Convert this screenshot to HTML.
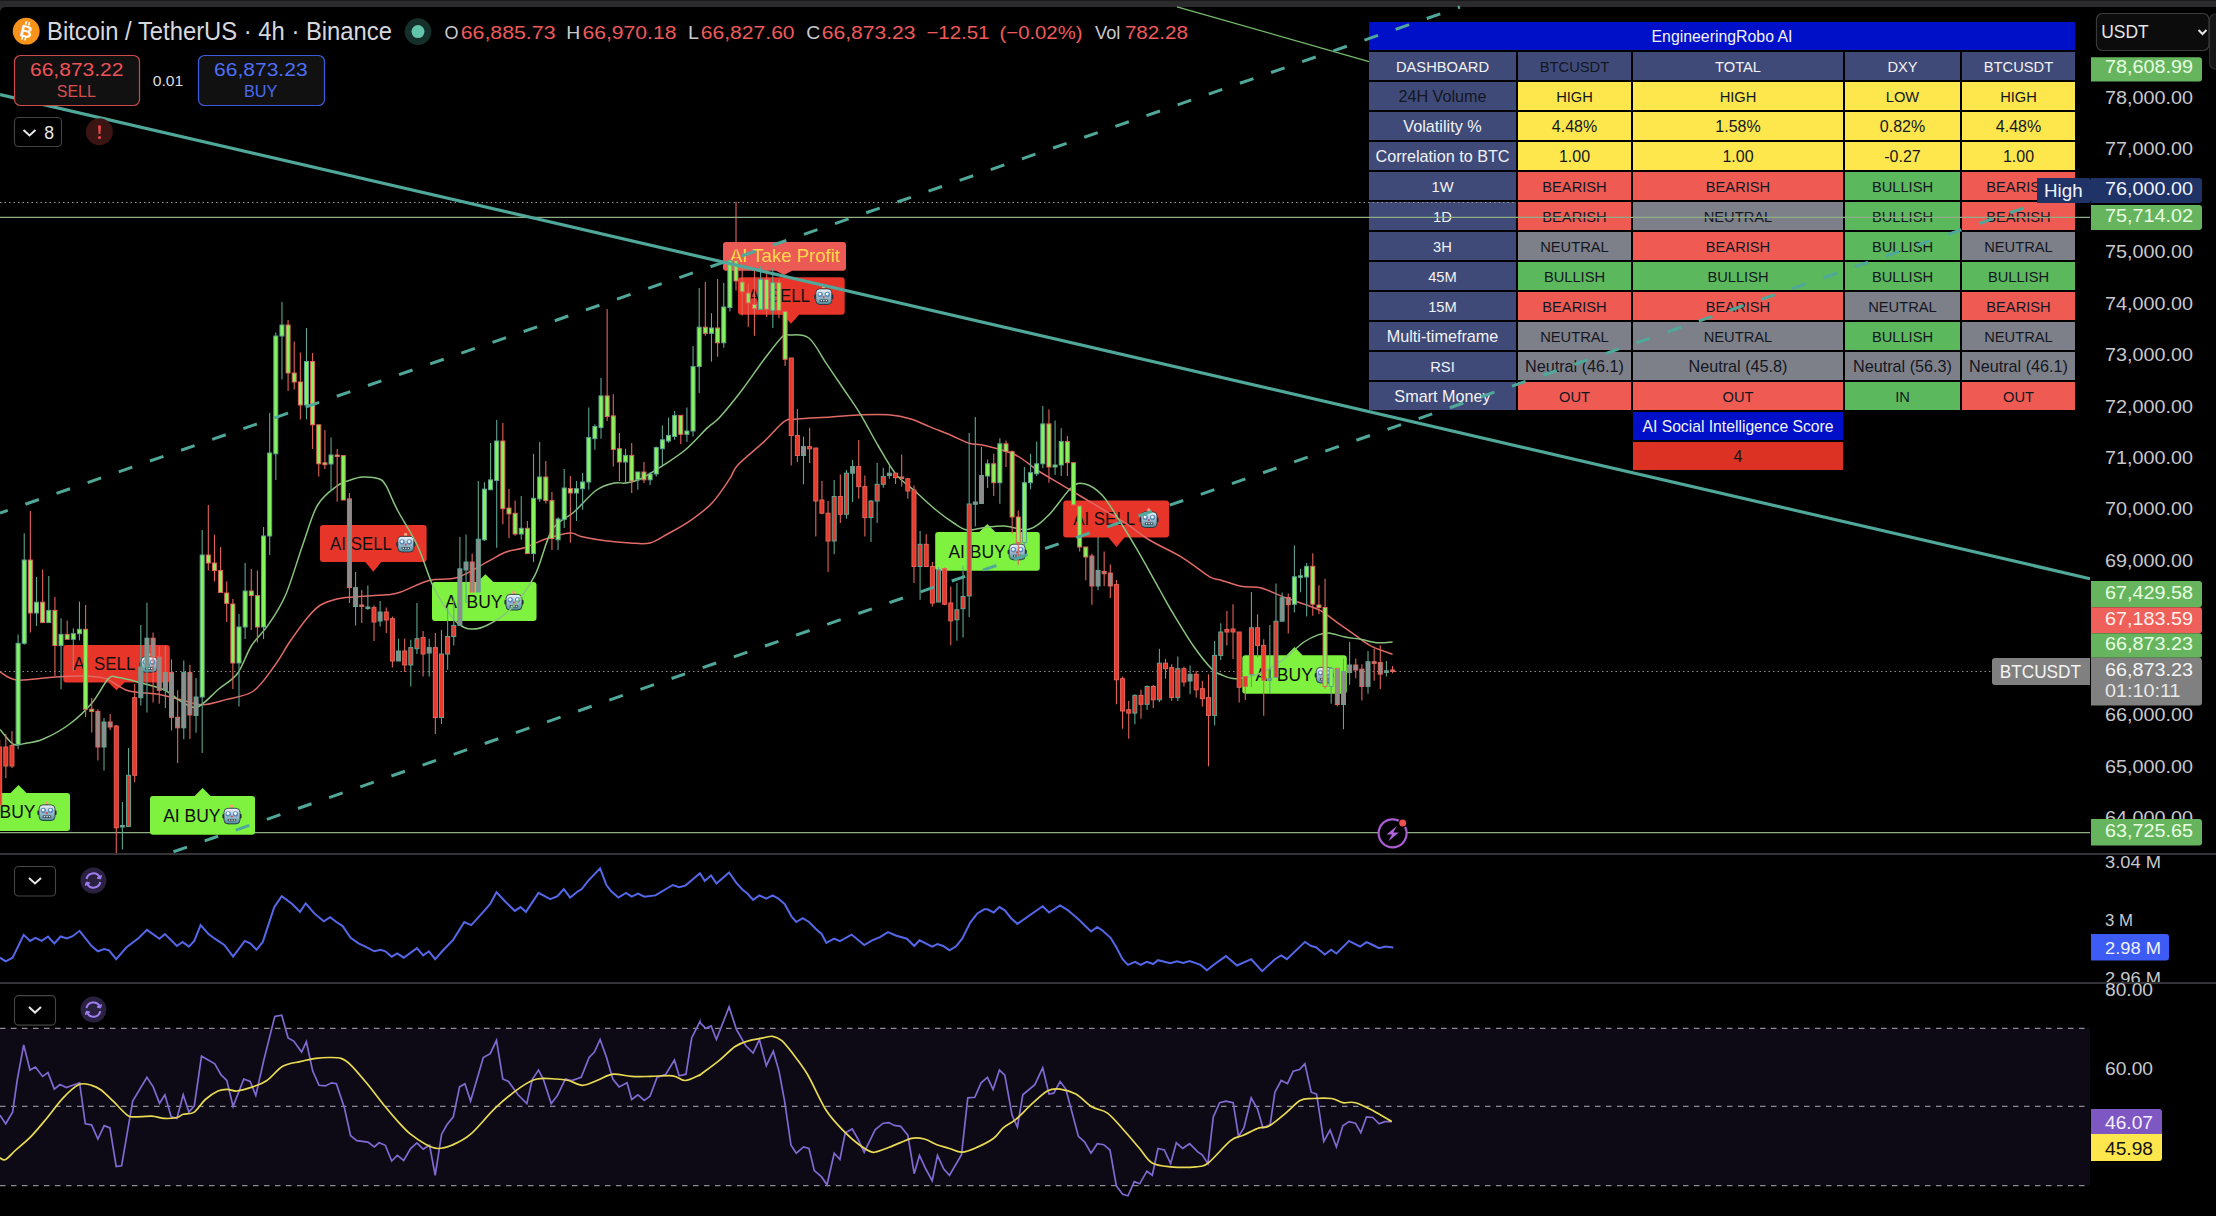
<!DOCTYPE html>
<html><head><meta charset="utf-8"><style>
html,body{margin:0;padding:0;background:#000;overflow:hidden}
svg{display:block}
text{font-family:'Liberation Sans', sans-serif}
</style></head><body>
<svg width="2216" height="1216" viewBox="0 0 2216 1216">
<defs><linearGradient id="robg" x1="0" y1="0" x2="0" y2="1"><stop offset="0" stop-color="#eef4fa"/><stop offset="0.45" stop-color="#a9c4d6"/><stop offset="1" stop-color="#4e8c98"/></linearGradient></defs>
<rect x="0" y="0" width="2216" height="1216" fill="#000"/>
<rect x="0" y="0" width="2216" height="7" fill="#2b2b2d"/>
<rect x="0" y="0" width="2216" height="1" fill="#1a1a1a"/>
<path d="M0 7 H2216 V13 Q2216 7 2210 7 Z" fill="#2b2b2d"/>
<path d="M0 7 L0 13 Q0 7 6 7 Z" fill="#2b2b2d"/>
<line x1="0" y1="671.5" x2="1992" y2="671.5" stroke="#8a8a8a" stroke-width="1" stroke-dasharray="1.5 3"/>
<line x1="0" y1="832.6" x2="2090" y2="832.6" stroke="#8fae86" stroke-width="1.2"/>
<line x1="1177" y1="6.8" x2="1369" y2="61.6" stroke="#76bc6c" stroke-width="1.3"/>
<path d="M-32 793 H10.5 L18.5 785 L26.5 793 H67 Q70 793 70 796 V828 Q70 831 67 831 H-32 Q-35 831 -35 828 V796 Q-35 793 -32 793 Z" fill="#7ef23e"/>
<text x="-21.8" y="818.3" font-size="18" fill="#0d0d0d" textLength="57.3" lengthAdjust="spacingAndGlyphs">AI BUY</text>
<g transform="translate(39.0,804.5)"><rect x="-1.6" y="6" width="3" height="4.5" rx="1" fill="#25323d"/><rect x="14.6" y="6" width="3" height="4.5" rx="1" fill="#25323d"/><rect x="7" y="-1" width="1.6" height="2" fill="#3a4650"/><circle cx="7.8" cy="-1.6" r="1.7" fill="#f6a27a"/><rect x="0" y="0.4" width="16" height="15.6" rx="4" fill="url(#robg)" stroke="#1e2a33" stroke-width="0.8"/><circle cx="4.3" cy="6" r="2.7" fill="#5a8cb8"/><circle cx="11.6" cy="6" r="2.7" fill="#5a8cb8"/><circle cx="4.1" cy="5.6" r="1.4" fill="#f4fbff"/><circle cx="11.4" cy="5.6" r="1.4" fill="#f4fbff"/><circle cx="7.9" cy="8.6" r="1.1" fill="#c24a5a"/><rect x="3.8" y="11" width="8.4" height="2.4" rx="0.8" fill="#2c3c48"/><rect x="4.8" y="11.6" width="1.5" height="1.2" fill="#e8f0f4"/><rect x="7.3" y="11.6" width="1.5" height="1.2" fill="#e8f0f4"/><rect x="9.8" y="11.6" width="1.5" height="1.2" fill="#e8f0f4"/></g>
<path d="M153 796 H194.6 L202.6 788 L210.6 796 H252 Q255 796 255 799 V831.7 Q255 834.7 252 834.7 H153 Q150 834.7 150 831.7 V799 Q150 796 153 796 Z" fill="#7ef23e"/>
<text x="163.2" y="821.65" font-size="18" fill="#0d0d0d" textLength="57.3" lengthAdjust="spacingAndGlyphs">AI BUY</text>
<g transform="translate(224.0,807.9)"><rect x="-1.6" y="6" width="3" height="4.5" rx="1" fill="#25323d"/><rect x="14.6" y="6" width="3" height="4.5" rx="1" fill="#25323d"/><rect x="7" y="-1" width="1.6" height="2" fill="#3a4650"/><circle cx="7.8" cy="-1.6" r="1.7" fill="#f6a27a"/><rect x="0" y="0.4" width="16" height="15.6" rx="4" fill="url(#robg)" stroke="#1e2a33" stroke-width="0.8"/><circle cx="4.3" cy="6" r="2.7" fill="#5a8cb8"/><circle cx="11.6" cy="6" r="2.7" fill="#5a8cb8"/><circle cx="4.1" cy="5.6" r="1.4" fill="#f4fbff"/><circle cx="11.4" cy="5.6" r="1.4" fill="#f4fbff"/><circle cx="7.9" cy="8.6" r="1.1" fill="#c24a5a"/><rect x="3.8" y="11" width="8.4" height="2.4" rx="0.8" fill="#2c3c48"/><rect x="4.8" y="11.6" width="1.5" height="1.2" fill="#e8f0f4"/><rect x="7.3" y="11.6" width="1.5" height="1.2" fill="#e8f0f4"/><rect x="9.8" y="11.6" width="1.5" height="1.2" fill="#e8f0f4"/></g>
<path d="M66.3 645 H166.8 Q169.8 645 169.8 648 V679.6 Q169.8 682.6 166.8 682.6 H124.5 L116.5 690.3 L108.5 682.6 H66.3 Q63.3 682.6 63.3 679.6 V648 Q63.3 645 66.3 645 Z" fill="#e8352a"/>
<text x="73.3" y="670.0999999999999" font-size="18" fill="#111" textLength="62" lengthAdjust="spacingAndGlyphs">AI SELL</text>
<g transform="translate(141.1,656.3)"><rect x="-1.6" y="6" width="3" height="4.5" rx="1" fill="#25323d"/><rect x="14.6" y="6" width="3" height="4.5" rx="1" fill="#25323d"/><rect x="7" y="-1" width="1.6" height="2" fill="#3a4650"/><circle cx="7.8" cy="-1.6" r="1.7" fill="#f6a27a"/><rect x="0" y="0.4" width="16" height="15.6" rx="4" fill="url(#robg)" stroke="#1e2a33" stroke-width="0.8"/><circle cx="4.3" cy="6" r="2.7" fill="#5a8cb8"/><circle cx="11.6" cy="6" r="2.7" fill="#5a8cb8"/><circle cx="4.1" cy="5.6" r="1.4" fill="#f4fbff"/><circle cx="11.4" cy="5.6" r="1.4" fill="#f4fbff"/><circle cx="7.9" cy="8.6" r="1.1" fill="#c24a5a"/><rect x="3.8" y="11" width="8.4" height="2.4" rx="0.8" fill="#2c3c48"/><rect x="4.8" y="11.6" width="1.5" height="1.2" fill="#e8f0f4"/><rect x="7.3" y="11.6" width="1.5" height="1.2" fill="#e8f0f4"/><rect x="9.8" y="11.6" width="1.5" height="1.2" fill="#e8f0f4"/></g>
<path d="M323 525 H423.6 Q426.6 525 426.6 528 V559 Q426.6 562 423.6 562 H381.3 L373.3 571.7 L365.3 562 H323 Q320 562 320 559 V528 Q320 525 323 525 Z" fill="#e8352a"/>
<text x="330" y="549.8" font-size="18" fill="#111" textLength="62" lengthAdjust="spacingAndGlyphs">AI SELL</text>
<g transform="translate(397.8,536.0)"><rect x="-1.6" y="6" width="3" height="4.5" rx="1" fill="#25323d"/><rect x="14.6" y="6" width="3" height="4.5" rx="1" fill="#25323d"/><rect x="7" y="-1" width="1.6" height="2" fill="#3a4650"/><circle cx="7.8" cy="-1.6" r="1.7" fill="#f6a27a"/><rect x="0" y="0.4" width="16" height="15.6" rx="4" fill="url(#robg)" stroke="#1e2a33" stroke-width="0.8"/><circle cx="4.3" cy="6" r="2.7" fill="#5a8cb8"/><circle cx="11.6" cy="6" r="2.7" fill="#5a8cb8"/><circle cx="4.1" cy="5.6" r="1.4" fill="#f4fbff"/><circle cx="11.4" cy="5.6" r="1.4" fill="#f4fbff"/><circle cx="7.9" cy="8.6" r="1.1" fill="#c24a5a"/><rect x="3.8" y="11" width="8.4" height="2.4" rx="0.8" fill="#2c3c48"/><rect x="4.8" y="11.6" width="1.5" height="1.2" fill="#e8f0f4"/><rect x="7.3" y="11.6" width="1.5" height="1.2" fill="#e8f0f4"/><rect x="9.8" y="11.6" width="1.5" height="1.2" fill="#e8f0f4"/></g>
<path d="M435 582 H477.4 L485.4 574.3 L493.4 582 H533.5 Q536.5 582 536.5 585 V618 Q536.5 621 533.5 621 H435 Q432 621 432 618 V585 Q432 582 435 582 Z" fill="#7ef23e"/>
<text x="445.2" y="607.8" font-size="18" fill="#0d0d0d" textLength="57.3" lengthAdjust="spacingAndGlyphs">AI BUY</text>
<g transform="translate(506.0,594.0)"><rect x="-1.6" y="6" width="3" height="4.5" rx="1" fill="#25323d"/><rect x="14.6" y="6" width="3" height="4.5" rx="1" fill="#25323d"/><rect x="7" y="-1" width="1.6" height="2" fill="#3a4650"/><circle cx="7.8" cy="-1.6" r="1.7" fill="#f6a27a"/><rect x="0" y="0.4" width="16" height="15.6" rx="4" fill="url(#robg)" stroke="#1e2a33" stroke-width="0.8"/><circle cx="4.3" cy="6" r="2.7" fill="#5a8cb8"/><circle cx="11.6" cy="6" r="2.7" fill="#5a8cb8"/><circle cx="4.1" cy="5.6" r="1.4" fill="#f4fbff"/><circle cx="11.4" cy="5.6" r="1.4" fill="#f4fbff"/><circle cx="7.9" cy="8.6" r="1.1" fill="#c24a5a"/><rect x="3.8" y="11" width="8.4" height="2.4" rx="0.8" fill="#2c3c48"/><rect x="4.8" y="11.6" width="1.5" height="1.2" fill="#e8f0f4"/><rect x="7.3" y="11.6" width="1.5" height="1.2" fill="#e8f0f4"/><rect x="9.8" y="11.6" width="1.5" height="1.2" fill="#e8f0f4"/></g>
<path d="M726 242 H843 Q846 242 846 245 V267.7 Q846 270.7 843 270.7 H792 L784 275 L776 270.7 H726 Q723 270.7 723 267.7 V245 Q723 242 726 242 Z" fill="#ec5a55"/>
<text x="730" y="261.7" font-size="18.5" fill="#ffd84a" textLength="110" lengthAdjust="spacingAndGlyphs">AI Take Profit</text>
<path d="M741 277.3 H841.7 Q844.7 277.3 844.7 280.3 V311.7 Q844.7 314.7 841.7 314.7 H799 L791 323.75 L783 314.7 H741 Q738 314.7 738 311.7 V280.3 Q738 277.3 741 277.3 Z" fill="#e8352a"/>
<text x="748" y="302.3" font-size="18" fill="#111" textLength="62" lengthAdjust="spacingAndGlyphs">AI SELL</text>
<g transform="translate(815.8,288.5)"><rect x="-1.6" y="6" width="3" height="4.5" rx="1" fill="#25323d"/><rect x="14.6" y="6" width="3" height="4.5" rx="1" fill="#25323d"/><rect x="7" y="-1" width="1.6" height="2" fill="#3a4650"/><circle cx="7.8" cy="-1.6" r="1.7" fill="#f6a27a"/><rect x="0" y="0.4" width="16" height="15.6" rx="4" fill="url(#robg)" stroke="#1e2a33" stroke-width="0.8"/><circle cx="4.3" cy="6" r="2.7" fill="#5a8cb8"/><circle cx="11.6" cy="6" r="2.7" fill="#5a8cb8"/><circle cx="4.1" cy="5.6" r="1.4" fill="#f4fbff"/><circle cx="11.4" cy="5.6" r="1.4" fill="#f4fbff"/><circle cx="7.9" cy="8.6" r="1.1" fill="#c24a5a"/><rect x="3.8" y="11" width="8.4" height="2.4" rx="0.8" fill="#2c3c48"/><rect x="4.8" y="11.6" width="1.5" height="1.2" fill="#e8f0f4"/><rect x="7.3" y="11.6" width="1.5" height="1.2" fill="#e8f0f4"/><rect x="9.8" y="11.6" width="1.5" height="1.2" fill="#e8f0f4"/></g>
<path d="M938.2 531.9 H979.3 L987.3 524 L995.3 531.9 H1036.8 Q1039.8 531.9 1039.8 534.9 V567.8 Q1039.8 570.8 1036.8 570.8 H938.2 Q935.2 570.8 935.2 567.8 V534.9 Q935.2 531.9 938.2 531.9 Z" fill="#7ef23e"/>
<text x="948.4000000000001" y="557.6499999999999" font-size="18" fill="#0d0d0d" textLength="57.3" lengthAdjust="spacingAndGlyphs">AI BUY</text>
<g transform="translate(1009.2,543.8)"><rect x="-1.6" y="6" width="3" height="4.5" rx="1" fill="#25323d"/><rect x="14.6" y="6" width="3" height="4.5" rx="1" fill="#25323d"/><rect x="7" y="-1" width="1.6" height="2" fill="#3a4650"/><circle cx="7.8" cy="-1.6" r="1.7" fill="#f6a27a"/><rect x="0" y="0.4" width="16" height="15.6" rx="4" fill="url(#robg)" stroke="#1e2a33" stroke-width="0.8"/><circle cx="4.3" cy="6" r="2.7" fill="#5a8cb8"/><circle cx="11.6" cy="6" r="2.7" fill="#5a8cb8"/><circle cx="4.1" cy="5.6" r="1.4" fill="#f4fbff"/><circle cx="11.4" cy="5.6" r="1.4" fill="#f4fbff"/><circle cx="7.9" cy="8.6" r="1.1" fill="#c24a5a"/><rect x="3.8" y="11" width="8.4" height="2.4" rx="0.8" fill="#2c3c48"/><rect x="4.8" y="11.6" width="1.5" height="1.2" fill="#e8f0f4"/><rect x="7.3" y="11.6" width="1.5" height="1.2" fill="#e8f0f4"/><rect x="9.8" y="11.6" width="1.5" height="1.2" fill="#e8f0f4"/></g>
<path d="M1066.2 500.4 H1166 Q1169 500.4 1169 503.4 V534.5 Q1169 537.5 1166 537.5 H1124.5 L1116.5 547 L1108.5 537.5 H1066.2 Q1063.2 537.5 1063.2 534.5 V503.4 Q1063.2 500.4 1066.2 500.4 Z" fill="#e8352a"/>
<text x="1073.2" y="525.25" font-size="18" fill="#111" textLength="62" lengthAdjust="spacingAndGlyphs">AI SELL</text>
<g transform="translate(1141.0,511.5)"><rect x="-1.6" y="6" width="3" height="4.5" rx="1" fill="#25323d"/><rect x="14.6" y="6" width="3" height="4.5" rx="1" fill="#25323d"/><rect x="7" y="-1" width="1.6" height="2" fill="#3a4650"/><circle cx="7.8" cy="-1.6" r="1.7" fill="#f6a27a"/><rect x="0" y="0.4" width="16" height="15.6" rx="4" fill="url(#robg)" stroke="#1e2a33" stroke-width="0.8"/><circle cx="4.3" cy="6" r="2.7" fill="#5a8cb8"/><circle cx="11.6" cy="6" r="2.7" fill="#5a8cb8"/><circle cx="4.1" cy="5.6" r="1.4" fill="#f4fbff"/><circle cx="11.4" cy="5.6" r="1.4" fill="#f4fbff"/><circle cx="7.9" cy="8.6" r="1.1" fill="#c24a5a"/><rect x="3.8" y="11" width="8.4" height="2.4" rx="0.8" fill="#2c3c48"/><rect x="4.8" y="11.6" width="1.5" height="1.2" fill="#e8f0f4"/><rect x="7.3" y="11.6" width="1.5" height="1.2" fill="#e8f0f4"/><rect x="9.8" y="11.6" width="1.5" height="1.2" fill="#e8f0f4"/></g>
<path d="M1245.3 655.2 H1286.5 L1294.5 647 L1302.5 655.2 H1343.8 Q1346.8 655.2 1346.8 658.2 V690.8 Q1346.8 693.8 1343.8 693.8 H1245.3 Q1242.3 693.8 1242.3 690.8 V658.2 Q1242.3 655.2 1245.3 655.2 Z" fill="#7ef23e"/>
<text x="1255.5" y="680.8" font-size="18" fill="#0d0d0d" textLength="57.3" lengthAdjust="spacingAndGlyphs">AI BUY</text>
<g transform="translate(1316.3,667.0)"><rect x="-1.6" y="6" width="3" height="4.5" rx="1" fill="#25323d"/><rect x="14.6" y="6" width="3" height="4.5" rx="1" fill="#25323d"/><rect x="7" y="-1" width="1.6" height="2" fill="#3a4650"/><circle cx="7.8" cy="-1.6" r="1.7" fill="#f6a27a"/><rect x="0" y="0.4" width="16" height="15.6" rx="4" fill="url(#robg)" stroke="#1e2a33" stroke-width="0.8"/><circle cx="4.3" cy="6" r="2.7" fill="#5a8cb8"/><circle cx="11.6" cy="6" r="2.7" fill="#5a8cb8"/><circle cx="4.1" cy="5.6" r="1.4" fill="#f4fbff"/><circle cx="11.4" cy="5.6" r="1.4" fill="#f4fbff"/><circle cx="7.9" cy="8.6" r="1.1" fill="#c24a5a"/><rect x="3.8" y="11" width="8.4" height="2.4" rx="0.8" fill="#2c3c48"/><rect x="4.8" y="11.6" width="1.5" height="1.2" fill="#e8f0f4"/><rect x="7.3" y="11.6" width="1.5" height="1.2" fill="#e8f0f4"/><rect x="9.8" y="11.6" width="1.5" height="1.2" fill="#e8f0f4"/></g>
<path d="M0.0 671.8 C2.7 673.2 8.2 679.0 16.4 680.0 C24.6 681.0 38.9 678.3 49.3 677.6 C59.7 676.9 69.7 675.9 79.0 676.0 C88.3 676.1 96.8 675.9 105.0 678.4 C113.2 680.9 119.8 688.2 128.3 690.8 C136.9 693.4 147.5 692.5 156.3 694.0 C165.1 695.5 173.3 698.0 181.0 699.8 C188.7 701.6 194.9 704.7 202.3 704.7 C209.8 704.7 217.2 701.9 225.7 699.6 C234.2 697.3 245.3 696.7 253.5 691.0 C261.7 685.3 268.8 673.5 274.9 665.3 C280.9 657.1 284.4 649.6 289.8 641.8 C295.2 634.0 302.0 624.3 307.0 618.3 C312.0 612.2 314.8 608.7 319.8 605.5 C324.8 602.3 331.2 600.4 336.9 599.0 C342.6 597.6 345.8 597.6 354.0 596.9 C362.2 596.2 378.3 595.6 386.0 594.8 C393.7 594.0 392.8 594.6 400.0 592.2 C407.2 589.8 419.5 582.9 429.0 580.4 C438.5 577.9 447.4 580.6 457.2 577.5 C467.0 574.4 479.7 565.8 487.7 561.6 C495.7 557.4 499.0 554.6 505.3 552.2 C511.6 549.9 518.4 549.8 525.3 547.5 C532.1 545.2 538.9 541.1 546.4 538.7 C553.9 536.3 564.2 533.4 570.0 533.0 C575.8 532.6 575.1 535.1 581.0 536.4 C586.9 537.7 597.3 539.7 605.5 540.8 C613.7 541.9 622.6 542.6 630.0 543.0 C637.4 543.4 643.7 544.5 650.0 543.0 C656.3 541.5 660.9 537.7 667.6 534.0 C674.3 530.3 682.6 526.1 690.0 520.9 C697.4 515.7 705.4 510.0 712.0 503.0 C718.6 496.0 725.5 485.0 729.8 478.7 C734.1 472.4 732.0 471.2 737.8 465.0 C743.6 458.8 756.6 448.7 764.4 441.4 C772.2 434.1 778.8 425.1 784.4 421.4 C790.0 417.7 789.9 419.7 797.7 419.0 C805.5 418.3 820.3 417.7 831.0 417.0 C841.7 416.3 852.4 415.2 862.0 414.8 C871.6 414.4 880.5 414.1 888.7 414.8 C896.9 415.5 904.2 417.0 911.0 419.0 C917.8 421.0 922.5 423.9 929.3 426.6 C936.0 429.4 944.9 432.7 951.5 435.5 C958.1 438.3 963.7 441.6 969.2 443.3 C974.8 445.0 977.1 443.6 984.8 445.5 C992.5 447.4 1006.7 450.8 1015.5 455.0 C1024.3 459.2 1030.3 465.7 1037.7 470.5 C1045.1 475.3 1052.6 479.4 1060.0 483.8 C1067.4 488.2 1074.6 492.6 1082.0 497.0 C1089.4 501.4 1096.9 505.9 1104.3 510.4 C1111.7 514.9 1119.0 518.8 1126.5 523.7 C1134.0 528.6 1140.0 534.3 1149.4 540.0 C1158.8 545.7 1172.7 551.7 1182.7 557.8 C1192.7 563.9 1203.0 572.9 1209.3 576.6 C1215.6 580.3 1214.9 578.3 1220.4 580.0 C1226.0 581.7 1235.9 585.3 1242.6 586.6 C1249.3 587.9 1253.7 586.0 1260.4 587.7 C1267.1 589.4 1275.2 593.8 1282.6 596.6 C1290.0 599.4 1298.5 602.0 1304.8 604.4 C1311.1 606.8 1315.1 607.7 1320.5 610.7 C1325.9 613.7 1331.5 618.4 1337.0 622.3 C1342.5 626.1 1347.9 630.0 1353.4 633.8 C1358.9 637.6 1363.3 641.9 1369.8 645.3 C1376.3 648.7 1388.8 652.9 1392.6 654.4" fill="none" stroke="#e06a66" stroke-width="1.5"/>
<path d="M0.0 729.4 C2.2 731.9 9.1 741.9 13.2 744.2 C17.3 746.5 19.8 744.2 24.7 743.4 C29.6 742.6 35.4 742.4 42.8 739.3 C50.2 736.1 60.8 730.5 69.0 724.5 C77.2 718.5 85.4 710.7 92.0 703.0 C98.6 695.3 104.2 682.6 108.6 678.4 C113.0 674.2 113.8 677.0 118.4 677.6 C123.1 678.2 128.8 679.6 136.5 681.7 C144.2 683.8 157.1 686.7 164.5 690.0 C171.9 693.3 175.5 698.6 181.0 701.4 C186.5 704.2 191.1 709.1 197.4 707.0 C203.7 704.9 212.1 694.6 218.8 689.0 C225.5 683.4 232.1 680.7 237.5 673.5 C242.9 666.3 246.2 654.1 251.3 646.0 C256.4 637.9 262.7 633.2 268.4 624.7 C274.1 616.2 279.9 608.3 285.6 595.0 C291.3 581.7 297.4 560.0 302.7 545.0 C308.0 530.0 311.9 514.8 317.6 505.0 C323.3 495.2 331.5 490.1 336.9 486.0 C342.2 481.9 345.4 481.8 349.7 480.3 C354.0 478.8 357.8 477.4 362.6 477.1 C367.4 476.9 374.7 477.4 378.6 478.8 C382.5 480.2 382.9 480.5 386.0 485.7 C389.1 490.9 392.2 500.1 397.4 510.0 C402.6 519.9 411.4 532.7 417.3 545.2 C423.2 557.7 427.7 574.4 432.6 585.1 C437.5 595.9 442.4 603.2 446.7 609.7 C451.0 616.2 454.3 620.6 458.4 623.8 C462.5 627.0 466.4 628.9 471.3 629.1 C476.2 629.3 481.1 628.4 487.7 625.0 C494.3 621.6 503.4 616.8 511.2 608.6 C519.0 600.4 527.9 588.8 534.7 575.7 C541.5 562.6 545.5 540.6 552.0 530.0 C558.5 519.4 566.6 518.7 574.0 512.0 C581.4 505.3 589.9 494.8 596.6 490.0 C603.3 485.2 609.2 484.2 614.0 483.0 C618.8 481.8 621.0 483.7 625.5 483.0 C630.0 482.3 634.8 481.6 641.0 478.7 C647.2 475.8 655.6 470.2 663.0 465.4 C670.4 460.6 678.0 456.1 685.4 449.8 C692.8 443.5 701.8 433.1 707.6 427.6 C713.4 422.1 714.3 423.3 720.0 417.0 C725.7 410.7 734.6 399.7 742.0 390.0 C749.4 380.3 757.7 367.8 764.4 359.0 C771.1 350.2 777.9 341.0 782.0 337.0 C786.1 333.0 784.3 334.8 788.8 335.0 C793.3 335.2 802.5 333.2 808.8 338.0 C815.1 342.8 820.6 355.0 826.5 363.7 C832.4 372.4 838.6 381.6 844.3 390.0 C850.0 398.4 854.9 405.1 860.5 414.4 C866.1 423.6 872.1 435.5 878.0 445.5 C883.9 455.5 890.0 467.0 896.0 474.4 C902.0 481.8 907.0 484.1 913.7 490.0 C920.4 495.9 929.3 504.5 936.0 510.0 C942.7 515.5 948.5 519.7 953.7 523.0 C958.9 526.3 961.8 529.2 967.0 530.0 C972.2 530.8 978.6 528.3 984.8 527.6 C991.0 526.9 997.1 525.7 1004.4 526.0 C1011.7 526.3 1021.4 531.1 1028.8 529.3 C1036.2 527.5 1041.8 521.9 1048.8 515.0 C1055.8 508.1 1065.1 493.2 1071.0 488.0 C1076.9 482.8 1079.1 482.6 1084.3 483.8 C1089.5 485.0 1096.0 488.7 1102.0 495.0 C1108.0 501.3 1114.1 512.3 1120.0 521.5 C1125.9 530.7 1131.0 539.0 1137.6 550.4 C1144.2 561.8 1154.1 579.9 1159.8 590.0 C1165.5 600.1 1165.9 601.6 1171.6 611.0 C1177.3 620.4 1187.1 636.9 1193.8 646.5 C1200.5 656.1 1207.1 664.1 1211.5 668.7 C1215.9 673.3 1216.3 672.6 1220.4 674.3 C1224.5 676.0 1229.3 678.9 1236.0 678.7 C1242.7 678.5 1252.6 676.3 1260.4 673.2 C1268.2 670.1 1275.3 665.2 1282.6 660.0 C1289.9 654.8 1298.0 646.2 1304.0 642.0 C1310.0 637.8 1314.7 636.1 1318.8 634.6 C1322.9 633.1 1324.3 632.6 1328.7 633.0 C1333.1 633.4 1339.7 635.9 1345.2 637.0 C1350.7 638.1 1356.1 638.5 1361.6 639.5 C1367.1 640.5 1372.8 642.4 1378.0 642.8 C1383.2 643.2 1390.2 642.1 1392.6 642.0" fill="none" stroke="#88c47e" stroke-width="1.5"/>
<line x1="-0.31" y1="740" x2="-0.31" y2="812" stroke="#e2645a" stroke-width="1.1"/>
<rect x="-2.31" y="747" width="4" height="58.0" fill="#e8392c" stroke="#e2645a" stroke-width="1"/>
<line x1="5.83" y1="734" x2="5.83" y2="778" stroke="#e2645a" stroke-width="1.1"/>
<rect x="3.83" y="747" width="4" height="19.0" fill="#e8392c" stroke="#e2645a" stroke-width="1"/>
<line x1="11.96" y1="731" x2="11.96" y2="768" stroke="#e2645a" stroke-width="1.1"/>
<rect x="9.96" y="745.6" width="4" height="20.4" fill="#e8392c" stroke="#e2645a" stroke-width="1"/>
<line x1="18.10" y1="634.4" x2="18.10" y2="749.2" stroke="#5fa392" stroke-width="1.1"/>
<rect x="16.10" y="643.3" width="4" height="101.4" fill="#84f45a" stroke="#5fa392" stroke-width="1"/>
<line x1="24.24" y1="533.2" x2="24.24" y2="644.8" stroke="#5fa392" stroke-width="1.1"/>
<rect x="22.24" y="560" width="4" height="83.3" fill="#84f45a" stroke="#5fa392" stroke-width="1"/>
<line x1="30.37" y1="511" x2="30.37" y2="632.6" stroke="#e2645a" stroke-width="1.1"/>
<rect x="28.37" y="560" width="4" height="53.0" fill="#84f45a" stroke="#e2645a" stroke-width="1"/>
<line x1="36.51" y1="577" x2="36.51" y2="626" stroke="#5fa392" stroke-width="1.1"/>
<rect x="34.51" y="602.2" width="4" height="10.8" fill="#84f45a" stroke="#5fa392" stroke-width="1"/>
<line x1="42.64" y1="569.4" x2="42.64" y2="622.6" stroke="#e2645a" stroke-width="1.1"/>
<rect x="40.64" y="602.2" width="4" height="20.4" fill="#84f45a" stroke="#e2645a" stroke-width="1"/>
<line x1="48.78" y1="576" x2="48.78" y2="622.6" stroke="#5fa392" stroke-width="1.1"/>
<rect x="46.78" y="610.4" width="4" height="12.2" fill="#84f45a" stroke="#5fa392" stroke-width="1"/>
<line x1="54.92" y1="597" x2="54.92" y2="676" stroke="#e2645a" stroke-width="1.1"/>
<rect x="52.92" y="610.4" width="4" height="35.1" fill="#84f45a" stroke="#e2645a" stroke-width="1"/>
<line x1="61.05" y1="618.2" x2="61.05" y2="689.2" stroke="#5fa392" stroke-width="1.1"/>
<rect x="59.05" y="634.4" width="4" height="11.1" fill="#84f45a" stroke="#5fa392" stroke-width="1"/>
<line x1="67.19" y1="620.4" x2="67.19" y2="639.3" stroke="#e2645a" stroke-width="1.1"/>
<rect x="65.19" y="634.4" width="4" height="4.9" fill="#84f45a" stroke="#e2645a" stroke-width="1"/>
<line x1="73.32" y1="628.2" x2="73.32" y2="671.5" stroke="#5fa392" stroke-width="1.1"/>
<rect x="71.32" y="633.7" width="4" height="5.6" fill="#84f45a" stroke="#5fa392" stroke-width="1"/>
<line x1="79.46" y1="601.5" x2="79.46" y2="640.4" stroke="#5fa392" stroke-width="1.1"/>
<rect x="77.46" y="629.3" width="4" height="4.4" fill="#84f45a" stroke="#5fa392" stroke-width="1"/>
<line x1="85.60" y1="604.9" x2="85.60" y2="717" stroke="#e2645a" stroke-width="1.1"/>
<rect x="83.60" y="629.3" width="4" height="79.9" fill="#84f45a" stroke="#e2645a" stroke-width="1"/>
<line x1="91.73" y1="698" x2="91.73" y2="732.5" stroke="#e2645a" stroke-width="1.1"/>
<rect x="89.73" y="709.2" width="4" height="2.2" fill="#84f45a" stroke="#e2645a" stroke-width="1"/>
<line x1="97.87" y1="709.2" x2="97.87" y2="760.5" stroke="#e2645a" stroke-width="1.1"/>
<rect x="95.87" y="711.4" width="4" height="35.6" fill="#8d8d8d" stroke="#e2645a" stroke-width="1"/>
<line x1="104.00" y1="718" x2="104.00" y2="770.5" stroke="#5fa392" stroke-width="1.1"/>
<rect x="102.00" y="722" width="4" height="25.0" fill="#8d8d8d" stroke="#5fa392" stroke-width="1"/>
<line x1="110.14" y1="714" x2="110.14" y2="730" stroke="#e2645a" stroke-width="1.1"/>
<rect x="108.14" y="722" width="4" height="5.0" fill="#8d8d8d" stroke="#e2645a" stroke-width="1"/>
<line x1="116.28" y1="725" x2="116.28" y2="853" stroke="#e2645a" stroke-width="1.1"/>
<rect x="114.28" y="726" width="4" height="101.8" fill="#e8392c" stroke="#e2645a" stroke-width="1"/>
<line x1="122.41" y1="802" x2="122.41" y2="849.5" stroke="#5fa392" stroke-width="1.1"/>
<rect x="120.41" y="825.5" width="4" height="1.5" fill="#8d8d8d" stroke="#5fa392" stroke-width="1"/>
<line x1="128.55" y1="748" x2="128.55" y2="826.4" stroke="#5fa392" stroke-width="1.1"/>
<rect x="126.55" y="775.3" width="4" height="51.1" fill="#e8392c" stroke="#5fa392" stroke-width="1"/>
<line x1="134.68" y1="684" x2="134.68" y2="782.3" stroke="#e2645a" stroke-width="1.1"/>
<rect x="132.68" y="697.7" width="4" height="77.6" fill="#e8392c" stroke="#e2645a" stroke-width="1"/>
<line x1="140.82" y1="625" x2="140.82" y2="705.5" stroke="#5fa392" stroke-width="1.1"/>
<rect x="138.82" y="667" width="4" height="30.7" fill="#8d8d8d" stroke="#5fa392" stroke-width="1"/>
<line x1="146.96" y1="602.7" x2="146.96" y2="712.5" stroke="#5fa392" stroke-width="1.1"/>
<rect x="144.96" y="638.2" width="4" height="28.8" fill="#8d8d8d" stroke="#5fa392" stroke-width="1"/>
<line x1="153.09" y1="632.6" x2="153.09" y2="702.5" stroke="#e2645a" stroke-width="1.1"/>
<rect x="151.09" y="638.2" width="4" height="18.8" fill="#8d8d8d" stroke="#e2645a" stroke-width="1"/>
<line x1="159.23" y1="646" x2="159.23" y2="703.7" stroke="#e2645a" stroke-width="1.1"/>
<rect x="157.23" y="657" width="4" height="33.3" fill="#8d8d8d" stroke="#e2645a" stroke-width="1"/>
<line x1="165.36" y1="646" x2="165.36" y2="708" stroke="#5fa392" stroke-width="1.1"/>
<rect x="163.36" y="672.6" width="4" height="17.7" fill="#8d8d8d" stroke="#5fa392" stroke-width="1"/>
<line x1="171.50" y1="659.3" x2="171.50" y2="730.5" stroke="#e2645a" stroke-width="1.1"/>
<rect x="169.50" y="672.6" width="4" height="44.7" fill="#8d8d8d" stroke="#e2645a" stroke-width="1"/>
<line x1="177.64" y1="690.3" x2="177.64" y2="763" stroke="#e2645a" stroke-width="1.1"/>
<rect x="175.64" y="717.3" width="4" height="10.5" fill="#8d8d8d" stroke="#e2645a" stroke-width="1"/>
<line x1="183.77" y1="660.4" x2="183.77" y2="739.2" stroke="#5fa392" stroke-width="1.1"/>
<rect x="181.77" y="672.6" width="4" height="55.2" fill="#8d8d8d" stroke="#5fa392" stroke-width="1"/>
<line x1="189.91" y1="664.8" x2="189.91" y2="739" stroke="#e2645a" stroke-width="1.1"/>
<rect x="187.91" y="672.6" width="4" height="42.4" fill="#8d8d8d" stroke="#e2645a" stroke-width="1"/>
<line x1="196.04" y1="678" x2="196.04" y2="732.7" stroke="#5fa392" stroke-width="1.1"/>
<rect x="194.04" y="697" width="4" height="18.5" fill="#8d8d8d" stroke="#5fa392" stroke-width="1"/>
<line x1="202.18" y1="530" x2="202.18" y2="753" stroke="#5fa392" stroke-width="1.1"/>
<rect x="200.18" y="555" width="4" height="142.0" fill="#84f45a" stroke="#5fa392" stroke-width="1"/>
<line x1="208.32" y1="505" x2="208.32" y2="570.6" stroke="#e2645a" stroke-width="1.1"/>
<rect x="206.32" y="555" width="4" height="8.0" fill="#84f45a" stroke="#e2645a" stroke-width="1"/>
<line x1="214.45" y1="534.7" x2="214.45" y2="581.6" stroke="#e2645a" stroke-width="1.1"/>
<rect x="212.45" y="563" width="4" height="7.6" fill="#84f45a" stroke="#e2645a" stroke-width="1"/>
<line x1="220.59" y1="547" x2="220.59" y2="592.5" stroke="#e2645a" stroke-width="1.1"/>
<rect x="218.59" y="570.6" width="4" height="21.9" fill="#84f45a" stroke="#e2645a" stroke-width="1"/>
<line x1="226.72" y1="581.6" x2="226.72" y2="622" stroke="#e2645a" stroke-width="1.1"/>
<rect x="224.72" y="593" width="4" height="10.4" fill="#84f45a" stroke="#e2645a" stroke-width="1"/>
<line x1="232.86" y1="599" x2="232.86" y2="689" stroke="#e2645a" stroke-width="1.1"/>
<rect x="230.86" y="604" width="4" height="59.0" fill="#84f45a" stroke="#e2645a" stroke-width="1"/>
<line x1="239.00" y1="614" x2="239.00" y2="706.6" stroke="#5fa392" stroke-width="1.1"/>
<rect x="237.00" y="627" width="4" height="36.0" fill="#84f45a" stroke="#5fa392" stroke-width="1"/>
<line x1="245.13" y1="563" x2="245.13" y2="639" stroke="#5fa392" stroke-width="1.1"/>
<rect x="243.13" y="591" width="4" height="36.0" fill="#84f45a" stroke="#5fa392" stroke-width="1"/>
<line x1="251.27" y1="569" x2="251.27" y2="630" stroke="#e2645a" stroke-width="1.1"/>
<rect x="249.27" y="591" width="4" height="4.6" fill="#84f45a" stroke="#e2645a" stroke-width="1"/>
<line x1="257.40" y1="570.6" x2="257.40" y2="642.5" stroke="#e2645a" stroke-width="1.1"/>
<rect x="255.40" y="595.6" width="4" height="31.4" fill="#84f45a" stroke="#e2645a" stroke-width="1"/>
<line x1="263.54" y1="527" x2="263.54" y2="639" stroke="#5fa392" stroke-width="1.1"/>
<rect x="261.54" y="536" width="4" height="91.0" fill="#84f45a" stroke="#5fa392" stroke-width="1"/>
<line x1="269.68" y1="413" x2="269.68" y2="555" stroke="#5fa392" stroke-width="1.1"/>
<rect x="267.68" y="453" width="4" height="83.0" fill="#84f45a" stroke="#5fa392" stroke-width="1"/>
<line x1="275.81" y1="332.5" x2="275.81" y2="480" stroke="#5fa392" stroke-width="1.1"/>
<rect x="273.81" y="336" width="4" height="117.8" fill="#84f45a" stroke="#5fa392" stroke-width="1"/>
<line x1="281.95" y1="302" x2="281.95" y2="379.6" stroke="#5fa392" stroke-width="1.1"/>
<rect x="279.95" y="325" width="4" height="11.0" fill="#84f45a" stroke="#5fa392" stroke-width="1"/>
<line x1="288.08" y1="320" x2="288.08" y2="391" stroke="#e2645a" stroke-width="1.1"/>
<rect x="286.08" y="325" width="4" height="48.0" fill="#84f45a" stroke="#e2645a" stroke-width="1"/>
<line x1="294.22" y1="341.6" x2="294.22" y2="389.5" stroke="#e2645a" stroke-width="1.1"/>
<rect x="292.22" y="373" width="4" height="9.0" fill="#84f45a" stroke="#e2645a" stroke-width="1"/>
<line x1="300.36" y1="352.4" x2="300.36" y2="419.4" stroke="#e2645a" stroke-width="1.1"/>
<rect x="298.36" y="382" width="4" height="23.0" fill="#84f45a" stroke="#e2645a" stroke-width="1"/>
<line x1="306.49" y1="328" x2="306.49" y2="419.4" stroke="#5fa392" stroke-width="1.1"/>
<rect x="304.49" y="361.5" width="4" height="43.5" fill="#84f45a" stroke="#5fa392" stroke-width="1"/>
<line x1="312.63" y1="353" x2="312.63" y2="449" stroke="#e2645a" stroke-width="1.1"/>
<rect x="310.63" y="361.5" width="4" height="63.3" fill="#84f45a" stroke="#e2645a" stroke-width="1"/>
<line x1="318.76" y1="424.8" x2="318.76" y2="476.4" stroke="#e2645a" stroke-width="1.1"/>
<rect x="316.76" y="424.8" width="4" height="39.0" fill="#84f45a" stroke="#e2645a" stroke-width="1"/>
<line x1="324.90" y1="430" x2="324.90" y2="469" stroke="#e2645a" stroke-width="1.1"/>
<rect x="322.90" y="462.8" width="4" height="1.9" fill="#84f45a" stroke="#e2645a" stroke-width="1"/>
<line x1="331.04" y1="437.5" x2="331.04" y2="491" stroke="#5fa392" stroke-width="1.1"/>
<rect x="329.04" y="455" width="4" height="9.0" fill="#84f45a" stroke="#5fa392" stroke-width="1"/>
<line x1="337.17" y1="449" x2="337.17" y2="501.8" stroke="#e2645a" stroke-width="1.1"/>
<rect x="335.17" y="455" width="4" height="1.5" fill="#84f45a" stroke="#e2645a" stroke-width="1"/>
<line x1="343.31" y1="455.6" x2="343.31" y2="500" stroke="#e2645a" stroke-width="1.1"/>
<rect x="341.31" y="455.6" width="4" height="44.4" fill="#84f45a" stroke="#e2645a" stroke-width="1"/>
<line x1="349.44" y1="493" x2="349.44" y2="603" stroke="#e2645a" stroke-width="1.1"/>
<rect x="347.44" y="498.9" width="4" height="88.7" fill="#8d8d8d" stroke="#e2645a" stroke-width="1"/>
<line x1="355.58" y1="572" x2="355.58" y2="625.4" stroke="#5fa392" stroke-width="1.1"/>
<rect x="353.58" y="587.6" width="4" height="18.9" fill="#8d8d8d" stroke="#5fa392" stroke-width="1"/>
<line x1="361.72" y1="590" x2="361.72" y2="623" stroke="#e2645a" stroke-width="1.1"/>
<rect x="359.72" y="605" width="4" height="1.5" fill="#8d8d8d" stroke="#e2645a" stroke-width="1"/>
<line x1="367.85" y1="585.4" x2="367.85" y2="610" stroke="#5fa392" stroke-width="1.1"/>
<rect x="365.85" y="607" width="4" height="1.5" fill="#8d8d8d" stroke="#5fa392" stroke-width="1"/>
<line x1="373.99" y1="605.4" x2="373.99" y2="641" stroke="#e2645a" stroke-width="1.1"/>
<rect x="371.99" y="607.6" width="4" height="14.4" fill="#e8392c" stroke="#e2645a" stroke-width="1"/>
<line x1="380.12" y1="601" x2="380.12" y2="626.5" stroke="#5fa392" stroke-width="1.1"/>
<rect x="378.12" y="612" width="4" height="9.0" fill="#8d8d8d" stroke="#5fa392" stroke-width="1"/>
<line x1="386.26" y1="607.6" x2="386.26" y2="633" stroke="#e2645a" stroke-width="1.1"/>
<rect x="384.26" y="612" width="4" height="8.0" fill="#e8392c" stroke="#e2645a" stroke-width="1"/>
<line x1="392.40" y1="616.5" x2="392.40" y2="667.6" stroke="#e2645a" stroke-width="1.1"/>
<rect x="390.40" y="618.7" width="4" height="42.3" fill="#e8392c" stroke="#e2645a" stroke-width="1"/>
<line x1="398.53" y1="638.7" x2="398.53" y2="661" stroke="#5fa392" stroke-width="1.1"/>
<rect x="396.53" y="651" width="4" height="10.0" fill="#8d8d8d" stroke="#5fa392" stroke-width="1"/>
<line x1="404.67" y1="638.7" x2="404.67" y2="672" stroke="#e2645a" stroke-width="1.1"/>
<rect x="402.67" y="651" width="4" height="14.0" fill="#e8392c" stroke="#e2645a" stroke-width="1"/>
<line x1="410.80" y1="639.8" x2="410.80" y2="686.4" stroke="#5fa392" stroke-width="1.1"/>
<rect x="408.80" y="647.6" width="4" height="17.4" fill="#e8392c" stroke="#5fa392" stroke-width="1"/>
<line x1="416.94" y1="603" x2="416.94" y2="654" stroke="#5fa392" stroke-width="1.1"/>
<rect x="414.94" y="638.7" width="4" height="10.0" fill="#e8392c" stroke="#5fa392" stroke-width="1"/>
<line x1="423.08" y1="631" x2="423.08" y2="676.4" stroke="#e2645a" stroke-width="1.1"/>
<rect x="421.08" y="637.6" width="4" height="16.4" fill="#e8392c" stroke="#e2645a" stroke-width="1"/>
<line x1="429.21" y1="638.7" x2="429.21" y2="676.4" stroke="#5fa392" stroke-width="1.1"/>
<rect x="427.21" y="647.6" width="4" height="5.4" fill="#8d8d8d" stroke="#5fa392" stroke-width="1"/>
<line x1="435.35" y1="633" x2="435.35" y2="734" stroke="#e2645a" stroke-width="1.1"/>
<rect x="433.35" y="647.6" width="4" height="69.9" fill="#e8392c" stroke="#e2645a" stroke-width="1"/>
<line x1="441.48" y1="630" x2="441.48" y2="724" stroke="#5fa392" stroke-width="1.1"/>
<rect x="439.48" y="654" width="4" height="63.5" fill="#e8392c" stroke="#5fa392" stroke-width="1"/>
<line x1="447.62" y1="607.6" x2="447.62" y2="669.8" stroke="#5fa392" stroke-width="1.1"/>
<rect x="445.62" y="636.5" width="4" height="17.5" fill="#e8392c" stroke="#5fa392" stroke-width="1"/>
<line x1="453.76" y1="598.7" x2="453.76" y2="645.4" stroke="#5fa392" stroke-width="1.1"/>
<rect x="451.76" y="625.4" width="4" height="11.1" fill="#e8392c" stroke="#5fa392" stroke-width="1"/>
<line x1="459.89" y1="537" x2="459.89" y2="625.4" stroke="#5fa392" stroke-width="1.1"/>
<rect x="457.89" y="568.8" width="4" height="56.6" fill="#8d8d8d" stroke="#5fa392" stroke-width="1"/>
<line x1="466.03" y1="534.6" x2="466.03" y2="603" stroke="#5fa392" stroke-width="1.1"/>
<rect x="464.03" y="562" width="4" height="8.0" fill="#8d8d8d" stroke="#5fa392" stroke-width="1"/>
<line x1="472.16" y1="553.6" x2="472.16" y2="592" stroke="#e2645a" stroke-width="1.1"/>
<rect x="470.16" y="562" width="4" height="30.0" fill="#8d8d8d" stroke="#e2645a" stroke-width="1"/>
<line x1="478.30" y1="481" x2="478.30" y2="592" stroke="#5fa392" stroke-width="1.1"/>
<rect x="476.30" y="539.2" width="4" height="52.8" fill="#8d8d8d" stroke="#5fa392" stroke-width="1"/>
<line x1="484.44" y1="482.2" x2="484.44" y2="541" stroke="#5fa392" stroke-width="1.1"/>
<rect x="482.44" y="489.1" width="4" height="50.7" fill="#84f45a" stroke="#5fa392" stroke-width="1"/>
<line x1="490.57" y1="443" x2="490.57" y2="490.3" stroke="#5fa392" stroke-width="1.1"/>
<rect x="488.57" y="479.9" width="4" height="9.8" fill="#84f45a" stroke="#5fa392" stroke-width="1"/>
<line x1="496.71" y1="420" x2="496.71" y2="547.8" stroke="#5fa392" stroke-width="1.1"/>
<rect x="494.71" y="441" width="4" height="39.5" fill="#84f45a" stroke="#5fa392" stroke-width="1"/>
<line x1="502.84" y1="422.9" x2="502.84" y2="524.2" stroke="#e2645a" stroke-width="1.1"/>
<rect x="500.84" y="441" width="4" height="67.7" fill="#84f45a" stroke="#e2645a" stroke-width="1"/>
<line x1="508.98" y1="489.1" x2="508.98" y2="538" stroke="#e2645a" stroke-width="1.1"/>
<rect x="506.98" y="508.1" width="4" height="5.8" fill="#84f45a" stroke="#e2645a" stroke-width="1"/>
<line x1="515.12" y1="500.6" x2="515.12" y2="535.7" stroke="#e2645a" stroke-width="1.1"/>
<rect x="513.12" y="513.3" width="4" height="20.7" fill="#84f45a" stroke="#e2645a" stroke-width="1"/>
<line x1="521.25" y1="496" x2="521.25" y2="539.8" stroke="#5fa392" stroke-width="1.1"/>
<rect x="519.25" y="528.3" width="4" height="5.7" fill="#84f45a" stroke="#5fa392" stroke-width="1"/>
<line x1="527.39" y1="521" x2="527.39" y2="553.6" stroke="#e2645a" stroke-width="1.1"/>
<rect x="525.39" y="528.3" width="4" height="25.3" fill="#84f45a" stroke="#e2645a" stroke-width="1"/>
<line x1="533.52" y1="454" x2="533.52" y2="562" stroke="#5fa392" stroke-width="1.1"/>
<rect x="531.52" y="498.3" width="4" height="55.3" fill="#84f45a" stroke="#5fa392" stroke-width="1"/>
<line x1="539.66" y1="441.9" x2="539.66" y2="501.8" stroke="#5fa392" stroke-width="1.1"/>
<rect x="537.66" y="477" width="4" height="21.9" fill="#84f45a" stroke="#5fa392" stroke-width="1"/>
<line x1="545.80" y1="460.9" x2="545.80" y2="503.5" stroke="#e2645a" stroke-width="1.1"/>
<rect x="543.80" y="477" width="4" height="23.6" fill="#84f45a" stroke="#e2645a" stroke-width="1"/>
<line x1="551.93" y1="492" x2="551.93" y2="550" stroke="#e2645a" stroke-width="1.1"/>
<rect x="549.93" y="500.6" width="4" height="38.0" fill="#84f45a" stroke="#e2645a" stroke-width="1"/>
<line x1="558.07" y1="517.3" x2="558.07" y2="550" stroke="#5fa392" stroke-width="1.1"/>
<rect x="556.07" y="519" width="4" height="20.8" fill="#84f45a" stroke="#5fa392" stroke-width="1"/>
<line x1="564.20" y1="469" x2="564.20" y2="528" stroke="#5fa392" stroke-width="1.1"/>
<rect x="562.20" y="488" width="4" height="31.6" fill="#84f45a" stroke="#5fa392" stroke-width="1"/>
<line x1="570.34" y1="475.9" x2="570.34" y2="542.7" stroke="#e2645a" stroke-width="1.1"/>
<rect x="568.34" y="488.5" width="4" height="4.5" fill="#84f45a" stroke="#e2645a" stroke-width="1"/>
<line x1="576.48" y1="481" x2="576.48" y2="521" stroke="#5fa392" stroke-width="1.1"/>
<rect x="574.48" y="488.7" width="4" height="4.3" fill="#84f45a" stroke="#5fa392" stroke-width="1"/>
<line x1="582.61" y1="473" x2="582.61" y2="509.8" stroke="#5fa392" stroke-width="1.1"/>
<rect x="580.61" y="482" width="4" height="6.7" fill="#84f45a" stroke="#5fa392" stroke-width="1"/>
<line x1="588.75" y1="407.6" x2="588.75" y2="489.8" stroke="#5fa392" stroke-width="1.1"/>
<rect x="586.75" y="437.6" width="4" height="44.4" fill="#84f45a" stroke="#5fa392" stroke-width="1"/>
<line x1="594.88" y1="424.3" x2="594.88" y2="449.8" stroke="#5fa392" stroke-width="1.1"/>
<rect x="592.88" y="426.5" width="4" height="12.2" fill="#84f45a" stroke="#5fa392" stroke-width="1"/>
<line x1="601.02" y1="377.7" x2="601.02" y2="438.7" stroke="#5fa392" stroke-width="1.1"/>
<rect x="599.02" y="395.9" width="4" height="31.7" fill="#84f45a" stroke="#5fa392" stroke-width="1"/>
<line x1="607.16" y1="308.9" x2="607.16" y2="421" stroke="#e2645a" stroke-width="1.1"/>
<rect x="605.16" y="395.9" width="4" height="20.6" fill="#84f45a" stroke="#e2645a" stroke-width="1"/>
<line x1="613.29" y1="394.3" x2="613.29" y2="466.5" stroke="#e2645a" stroke-width="1.1"/>
<rect x="611.29" y="415.9" width="4" height="33.5" fill="#84f45a" stroke="#e2645a" stroke-width="1"/>
<line x1="619.43" y1="433" x2="619.43" y2="481" stroke="#e2645a" stroke-width="1.1"/>
<rect x="617.43" y="448.7" width="4" height="13.3" fill="#84f45a" stroke="#e2645a" stroke-width="1"/>
<line x1="625.56" y1="448.7" x2="625.56" y2="484" stroke="#5fa392" stroke-width="1.1"/>
<rect x="623.56" y="455.4" width="4" height="6.6" fill="#84f45a" stroke="#5fa392" stroke-width="1"/>
<line x1="631.70" y1="443" x2="631.70" y2="493" stroke="#e2645a" stroke-width="1.1"/>
<rect x="629.70" y="455.4" width="4" height="25.6" fill="#84f45a" stroke="#e2645a" stroke-width="1"/>
<line x1="637.84" y1="472" x2="637.84" y2="489.8" stroke="#5fa392" stroke-width="1.1"/>
<rect x="635.84" y="472" width="4" height="7.8" fill="#84f45a" stroke="#5fa392" stroke-width="1"/>
<line x1="643.97" y1="462" x2="643.97" y2="483" stroke="#e2645a" stroke-width="1.1"/>
<rect x="641.97" y="472" width="4" height="7.8" fill="#84f45a" stroke="#e2645a" stroke-width="1"/>
<line x1="650.11" y1="472" x2="650.11" y2="485" stroke="#5fa392" stroke-width="1.1"/>
<rect x="648.11" y="474" width="4" height="5.8" fill="#84f45a" stroke="#5fa392" stroke-width="1"/>
<line x1="656.24" y1="446.5" x2="656.24" y2="476.5" stroke="#5fa392" stroke-width="1.1"/>
<rect x="654.24" y="447.6" width="4" height="26.4" fill="#84f45a" stroke="#5fa392" stroke-width="1"/>
<line x1="662.38" y1="425.4" x2="662.38" y2="465" stroke="#5fa392" stroke-width="1.1"/>
<rect x="660.38" y="439.8" width="4" height="8.9" fill="#84f45a" stroke="#5fa392" stroke-width="1"/>
<line x1="668.52" y1="417.6" x2="668.52" y2="443" stroke="#5fa392" stroke-width="1.1"/>
<rect x="666.52" y="435.4" width="4" height="5.6" fill="#84f45a" stroke="#5fa392" stroke-width="1"/>
<line x1="674.65" y1="411" x2="674.65" y2="439.8" stroke="#5fa392" stroke-width="1.1"/>
<rect x="672.65" y="415.4" width="4" height="21.1" fill="#84f45a" stroke="#5fa392" stroke-width="1"/>
<line x1="680.79" y1="415.4" x2="680.79" y2="444" stroke="#e2645a" stroke-width="1.1"/>
<rect x="678.79" y="415.4" width="4" height="18.9" fill="#84f45a" stroke="#e2645a" stroke-width="1"/>
<line x1="686.92" y1="407.6" x2="686.92" y2="442" stroke="#5fa392" stroke-width="1.1"/>
<rect x="684.92" y="431" width="4" height="3.3" fill="#84f45a" stroke="#5fa392" stroke-width="1"/>
<line x1="693.06" y1="346" x2="693.06" y2="436.5" stroke="#5fa392" stroke-width="1.1"/>
<rect x="691.06" y="366.6" width="4" height="64.4" fill="#84f45a" stroke="#5fa392" stroke-width="1"/>
<line x1="699.20" y1="288" x2="699.20" y2="393" stroke="#5fa392" stroke-width="1.1"/>
<rect x="697.20" y="327.2" width="4" height="39.4" fill="#84f45a" stroke="#5fa392" stroke-width="1"/>
<line x1="705.33" y1="282" x2="705.33" y2="335.8" stroke="#e2645a" stroke-width="1.1"/>
<rect x="703.33" y="327.2" width="4" height="6.1" fill="#84f45a" stroke="#e2645a" stroke-width="1"/>
<line x1="711.47" y1="313.2" x2="711.47" y2="361.7" stroke="#5fa392" stroke-width="1.1"/>
<rect x="709.47" y="328" width="4" height="5.3" fill="#84f45a" stroke="#5fa392" stroke-width="1"/>
<line x1="717.60" y1="279" x2="717.60" y2="356.8" stroke="#e2645a" stroke-width="1.1"/>
<rect x="715.60" y="328" width="4" height="14.8" fill="#84f45a" stroke="#e2645a" stroke-width="1"/>
<line x1="723.74" y1="283" x2="723.74" y2="347.7" stroke="#5fa392" stroke-width="1.1"/>
<rect x="721.74" y="307" width="4" height="35.8" fill="#84f45a" stroke="#5fa392" stroke-width="1"/>
<line x1="729.88" y1="259.4" x2="729.88" y2="311.5" stroke="#5fa392" stroke-width="1.1"/>
<rect x="727.88" y="260.5" width="4" height="47.0" fill="#84f45a" stroke="#5fa392" stroke-width="1"/>
<line x1="736.01" y1="201.7" x2="736.01" y2="290.6" stroke="#e2645a" stroke-width="1.1"/>
<rect x="734.01" y="260.5" width="4" height="20.5" fill="#84f45a" stroke="#e2645a" stroke-width="1"/>
<line x1="742.15" y1="268" x2="742.15" y2="315.6" stroke="#e2645a" stroke-width="1.1"/>
<rect x="740.15" y="282" width="4" height="9.8" fill="#84f45a" stroke="#e2645a" stroke-width="1"/>
<line x1="748.28" y1="283.8" x2="748.28" y2="326.7" stroke="#e2645a" stroke-width="1.1"/>
<rect x="746.28" y="293" width="4" height="9.9" fill="#84f45a" stroke="#e2645a" stroke-width="1"/>
<line x1="754.42" y1="268" x2="754.42" y2="335.8" stroke="#e2645a" stroke-width="1.1"/>
<rect x="752.42" y="304.5" width="4" height="4.2" fill="#84f45a" stroke="#e2645a" stroke-width="1"/>
<line x1="760.56" y1="266" x2="760.56" y2="310" stroke="#5fa392" stroke-width="1.1"/>
<rect x="758.56" y="279.4" width="4" height="29.9" fill="#84f45a" stroke="#5fa392" stroke-width="1"/>
<line x1="766.69" y1="263.8" x2="766.69" y2="317" stroke="#e2645a" stroke-width="1.1"/>
<rect x="764.69" y="279.4" width="4" height="29.9" fill="#84f45a" stroke="#e2645a" stroke-width="1"/>
<line x1="772.83" y1="268" x2="772.83" y2="328" stroke="#5fa392" stroke-width="1.1"/>
<rect x="770.83" y="282.7" width="4" height="27.7" fill="#84f45a" stroke="#5fa392" stroke-width="1"/>
<line x1="778.96" y1="279.4" x2="778.96" y2="318.2" stroke="#e2645a" stroke-width="1.1"/>
<rect x="776.96" y="282.7" width="4" height="27.7" fill="#84f45a" stroke="#e2645a" stroke-width="1"/>
<line x1="785.10" y1="310.4" x2="785.10" y2="366" stroke="#e2645a" stroke-width="1.1"/>
<rect x="783.10" y="311.5" width="4" height="47.8" fill="#84f45a" stroke="#e2645a" stroke-width="1"/>
<line x1="791.24" y1="358" x2="791.24" y2="465.5" stroke="#e2645a" stroke-width="1.1"/>
<rect x="789.24" y="358" width="4" height="77.5" fill="#e8392c" stroke="#e2645a" stroke-width="1"/>
<line x1="797.37" y1="409" x2="797.37" y2="462" stroke="#e2645a" stroke-width="1.1"/>
<rect x="795.37" y="435.5" width="4" height="20.0" fill="#e8392c" stroke="#e2645a" stroke-width="1"/>
<line x1="803.51" y1="436.6" x2="803.51" y2="484.3" stroke="#5fa392" stroke-width="1.1"/>
<rect x="801.51" y="446.6" width="4" height="8.9" fill="#8d8d8d" stroke="#5fa392" stroke-width="1"/>
<line x1="809.64" y1="427.7" x2="809.64" y2="463" stroke="#e2645a" stroke-width="1.1"/>
<rect x="807.64" y="446.6" width="4" height="2.2" fill="#e8392c" stroke="#e2645a" stroke-width="1"/>
<line x1="815.78" y1="448" x2="815.78" y2="536.5" stroke="#e2645a" stroke-width="1.1"/>
<rect x="813.78" y="448" width="4" height="53.0" fill="#e8392c" stroke="#e2645a" stroke-width="1"/>
<line x1="821.92" y1="481" x2="821.92" y2="514.3" stroke="#e2645a" stroke-width="1.1"/>
<rect x="819.92" y="500" width="4" height="13.2" fill="#e8392c" stroke="#e2645a" stroke-width="1"/>
<line x1="828.05" y1="501" x2="828.05" y2="572" stroke="#e2645a" stroke-width="1.1"/>
<rect x="826.05" y="513.2" width="4" height="27.8" fill="#e8392c" stroke="#e2645a" stroke-width="1"/>
<line x1="834.19" y1="480" x2="834.19" y2="554.3" stroke="#5fa392" stroke-width="1.1"/>
<rect x="832.19" y="496.5" width="4" height="44.5" fill="#e8392c" stroke="#5fa392" stroke-width="1"/>
<line x1="840.32" y1="474.4" x2="840.32" y2="523" stroke="#e2645a" stroke-width="1.1"/>
<rect x="838.32" y="496.5" width="4" height="17.8" fill="#e8392c" stroke="#e2645a" stroke-width="1"/>
<line x1="846.46" y1="470" x2="846.46" y2="518.7" stroke="#5fa392" stroke-width="1.1"/>
<rect x="844.46" y="473.2" width="4" height="41.1" fill="#e8392c" stroke="#5fa392" stroke-width="1"/>
<line x1="852.60" y1="460" x2="852.60" y2="502" stroke="#5fa392" stroke-width="1.1"/>
<rect x="850.60" y="466.6" width="4" height="6.6" fill="#8d8d8d" stroke="#5fa392" stroke-width="1"/>
<line x1="858.73" y1="440" x2="858.73" y2="498.8" stroke="#e2645a" stroke-width="1.1"/>
<rect x="856.73" y="466.6" width="4" height="20.0" fill="#e8392c" stroke="#e2645a" stroke-width="1"/>
<line x1="864.87" y1="475.5" x2="864.87" y2="536.5" stroke="#e2645a" stroke-width="1.1"/>
<rect x="862.87" y="486.6" width="4" height="31.0" fill="#e8392c" stroke="#e2645a" stroke-width="1"/>
<line x1="871.00" y1="500" x2="871.00" y2="542" stroke="#5fa392" stroke-width="1.1"/>
<rect x="869.00" y="501" width="4" height="16.6" fill="#e8392c" stroke="#5fa392" stroke-width="1"/>
<line x1="877.14" y1="463" x2="877.14" y2="523" stroke="#5fa392" stroke-width="1.1"/>
<rect x="875.14" y="484.3" width="4" height="16.7" fill="#e8392c" stroke="#5fa392" stroke-width="1"/>
<line x1="883.28" y1="467.7" x2="883.28" y2="487.7" stroke="#5fa392" stroke-width="1.1"/>
<rect x="881.28" y="476.6" width="4" height="7.7" fill="#e8392c" stroke="#5fa392" stroke-width="1"/>
<line x1="889.41" y1="465.5" x2="889.41" y2="478.8" stroke="#5fa392" stroke-width="1.1"/>
<rect x="887.41" y="473.2" width="4" height="2.3" fill="#8d8d8d" stroke="#5fa392" stroke-width="1"/>
<line x1="895.55" y1="473" x2="895.55" y2="484" stroke="#e2645a" stroke-width="1.1"/>
<rect x="893.55" y="473.2" width="4" height="4.5" fill="#e8392c" stroke="#e2645a" stroke-width="1"/>
<line x1="901.68" y1="454.4" x2="901.68" y2="486.6" stroke="#e2645a" stroke-width="1.1"/>
<rect x="899.68" y="477" width="4" height="1.5" fill="#8d8d8d" stroke="#e2645a" stroke-width="1"/>
<line x1="907.82" y1="477.7" x2="907.82" y2="498.8" stroke="#e2645a" stroke-width="1.1"/>
<rect x="905.82" y="478.8" width="4" height="12.2" fill="#e8392c" stroke="#e2645a" stroke-width="1"/>
<line x1="913.96" y1="485.5" x2="913.96" y2="583" stroke="#e2645a" stroke-width="1.1"/>
<rect x="911.96" y="490" width="4" height="76.5" fill="#e8392c" stroke="#e2645a" stroke-width="1"/>
<line x1="920.09" y1="531" x2="920.09" y2="599.8" stroke="#5fa392" stroke-width="1.1"/>
<rect x="918.09" y="544.3" width="4" height="22.2" fill="#e8392c" stroke="#5fa392" stroke-width="1"/>
<line x1="926.23" y1="534.3" x2="926.23" y2="566.5" stroke="#e2645a" stroke-width="1.1"/>
<rect x="924.23" y="544.3" width="4" height="22.2" fill="#e8392c" stroke="#e2645a" stroke-width="1"/>
<line x1="932.36" y1="562" x2="932.36" y2="606.4" stroke="#e2645a" stroke-width="1.1"/>
<rect x="930.36" y="566.5" width="4" height="36.5" fill="#e8392c" stroke="#e2645a" stroke-width="1"/>
<line x1="938.50" y1="567" x2="938.50" y2="602" stroke="#5fa392" stroke-width="1.1"/>
<rect x="936.50" y="569.8" width="4" height="32.2" fill="#e8392c" stroke="#5fa392" stroke-width="1"/>
<line x1="944.64" y1="567.6" x2="944.64" y2="605.3" stroke="#e2645a" stroke-width="1.1"/>
<rect x="942.64" y="568.7" width="4" height="35.5" fill="#e8392c" stroke="#e2645a" stroke-width="1"/>
<line x1="950.77" y1="586.5" x2="950.77" y2="645.3" stroke="#e2645a" stroke-width="1.1"/>
<rect x="948.77" y="603" width="4" height="17.9" fill="#e8392c" stroke="#e2645a" stroke-width="1"/>
<line x1="956.91" y1="583" x2="956.91" y2="640.8" stroke="#5fa392" stroke-width="1.1"/>
<rect x="954.91" y="609.8" width="4" height="10.0" fill="#e8392c" stroke="#5fa392" stroke-width="1"/>
<line x1="963.04" y1="565.4" x2="963.04" y2="637.5" stroke="#5fa392" stroke-width="1.1"/>
<rect x="961.04" y="596.4" width="4" height="12.3" fill="#e8392c" stroke="#5fa392" stroke-width="1"/>
<line x1="969.18" y1="433" x2="969.18" y2="617" stroke="#5fa392" stroke-width="1.1"/>
<rect x="967.18" y="504" width="4" height="92.0" fill="#e8392c" stroke="#5fa392" stroke-width="1"/>
<line x1="975.32" y1="417" x2="975.32" y2="526.5" stroke="#5fa392" stroke-width="1.1"/>
<rect x="973.32" y="502" width="4" height="2.3" fill="#8d8d8d" stroke="#5fa392" stroke-width="1"/>
<line x1="981.45" y1="447" x2="981.45" y2="503.8" stroke="#5fa392" stroke-width="1.1"/>
<rect x="979.45" y="475.5" width="4" height="28.0" fill="#8d8d8d" stroke="#5fa392" stroke-width="1"/>
<line x1="987.59" y1="459.4" x2="987.59" y2="488" stroke="#5fa392" stroke-width="1.1"/>
<rect x="985.59" y="463.8" width="4" height="12.2" fill="#84f45a" stroke="#5fa392" stroke-width="1"/>
<line x1="993.72" y1="453.8" x2="993.72" y2="496" stroke="#e2645a" stroke-width="1.1"/>
<rect x="991.72" y="463.8" width="4" height="18.9" fill="#84f45a" stroke="#e2645a" stroke-width="1"/>
<line x1="999.86" y1="438.3" x2="999.86" y2="503.8" stroke="#5fa392" stroke-width="1.1"/>
<rect x="997.86" y="443.8" width="4" height="38.9" fill="#84f45a" stroke="#5fa392" stroke-width="1"/>
<line x1="1006.00" y1="440.5" x2="1006.00" y2="467" stroke="#e2645a" stroke-width="1.1"/>
<rect x="1004.00" y="443.8" width="4" height="7.8" fill="#84f45a" stroke="#e2645a" stroke-width="1"/>
<line x1="1012.13" y1="450.5" x2="1012.13" y2="533.7" stroke="#e2645a" stroke-width="1.1"/>
<rect x="1010.13" y="451.6" width="4" height="65.4" fill="#84f45a" stroke="#e2645a" stroke-width="1"/>
<line x1="1018.27" y1="510.4" x2="1018.27" y2="564.8" stroke="#e2645a" stroke-width="1.1"/>
<rect x="1016.27" y="517" width="4" height="25.6" fill="#84f45a" stroke="#e2645a" stroke-width="1"/>
<line x1="1024.40" y1="467" x2="1024.40" y2="546" stroke="#5fa392" stroke-width="1.1"/>
<rect x="1022.40" y="482.7" width="4" height="59.9" fill="#84f45a" stroke="#5fa392" stroke-width="1"/>
<line x1="1030.54" y1="453.8" x2="1030.54" y2="489.3" stroke="#5fa392" stroke-width="1.1"/>
<rect x="1028.54" y="472.7" width="4" height="10.0" fill="#84f45a" stroke="#5fa392" stroke-width="1"/>
<line x1="1036.68" y1="441.6" x2="1036.68" y2="476" stroke="#5fa392" stroke-width="1.1"/>
<rect x="1034.68" y="463.8" width="4" height="10.0" fill="#84f45a" stroke="#5fa392" stroke-width="1"/>
<line x1="1042.81" y1="406" x2="1042.81" y2="468.3" stroke="#5fa392" stroke-width="1.1"/>
<rect x="1040.81" y="423.9" width="4" height="39.9" fill="#84f45a" stroke="#5fa392" stroke-width="1"/>
<line x1="1048.95" y1="409.4" x2="1048.95" y2="482.7" stroke="#e2645a" stroke-width="1.1"/>
<rect x="1046.95" y="423.9" width="4" height="43.1" fill="#84f45a" stroke="#e2645a" stroke-width="1"/>
<line x1="1055.08" y1="420.5" x2="1055.08" y2="475" stroke="#5fa392" stroke-width="1.1"/>
<rect x="1053.08" y="465" width="4" height="2.0" fill="#84f45a" stroke="#5fa392" stroke-width="1"/>
<line x1="1061.22" y1="428.3" x2="1061.22" y2="476" stroke="#5fa392" stroke-width="1.1"/>
<rect x="1059.22" y="441.6" width="4" height="23.4" fill="#84f45a" stroke="#5fa392" stroke-width="1"/>
<line x1="1067.36" y1="436" x2="1067.36" y2="476" stroke="#e2645a" stroke-width="1.1"/>
<rect x="1065.36" y="441.6" width="4" height="21.1" fill="#84f45a" stroke="#e2645a" stroke-width="1"/>
<line x1="1073.49" y1="462.7" x2="1073.49" y2="504.9" stroke="#e2645a" stroke-width="1.1"/>
<rect x="1071.49" y="462.7" width="4" height="42.2" fill="#84f45a" stroke="#e2645a" stroke-width="1"/>
<line x1="1079.63" y1="506" x2="1079.63" y2="551.5" stroke="#e2645a" stroke-width="1.1"/>
<rect x="1077.63" y="506" width="4" height="41.0" fill="#84f45a" stroke="#e2645a" stroke-width="1"/>
<line x1="1085.76" y1="547" x2="1085.76" y2="580.3" stroke="#e2645a" stroke-width="1.1"/>
<rect x="1083.76" y="547" width="4" height="10.0" fill="#84f45a" stroke="#e2645a" stroke-width="1"/>
<line x1="1091.90" y1="553.7" x2="1091.90" y2="604.8" stroke="#e2645a" stroke-width="1.1"/>
<rect x="1089.90" y="556" width="4" height="30.0" fill="#8d8d8d" stroke="#e2645a" stroke-width="1"/>
<line x1="1098.04" y1="537" x2="1098.04" y2="590.3" stroke="#5fa392" stroke-width="1.1"/>
<rect x="1096.04" y="570.4" width="4" height="15.6" fill="#8d8d8d" stroke="#5fa392" stroke-width="1"/>
<line x1="1104.17" y1="551.5" x2="1104.17" y2="586" stroke="#e2645a" stroke-width="1.1"/>
<rect x="1102.17" y="571.5" width="4" height="2.2" fill="#8d8d8d" stroke="#e2645a" stroke-width="1"/>
<line x1="1110.31" y1="564.6" x2="1110.31" y2="598" stroke="#e2645a" stroke-width="1.1"/>
<rect x="1108.31" y="573" width="4" height="13.0" fill="#8d8d8d" stroke="#e2645a" stroke-width="1"/>
<line x1="1116.44" y1="580" x2="1116.44" y2="704.3" stroke="#e2645a" stroke-width="1.1"/>
<rect x="1114.44" y="584.6" width="4" height="95.2" fill="#e8392c" stroke="#e2645a" stroke-width="1"/>
<line x1="1122.58" y1="676.5" x2="1122.58" y2="728.7" stroke="#e2645a" stroke-width="1.1"/>
<rect x="1120.58" y="678.7" width="4" height="32.3" fill="#e8392c" stroke="#e2645a" stroke-width="1"/>
<line x1="1128.72" y1="701" x2="1128.72" y2="738.7" stroke="#e2645a" stroke-width="1.1"/>
<rect x="1126.72" y="709.8" width="4" height="3.3" fill="#e8392c" stroke="#e2645a" stroke-width="1"/>
<line x1="1134.85" y1="694.3" x2="1134.85" y2="724.2" stroke="#5fa392" stroke-width="1.1"/>
<rect x="1132.85" y="695.4" width="4" height="17.7" fill="#e8392c" stroke="#5fa392" stroke-width="1"/>
<line x1="1140.99" y1="689.8" x2="1140.99" y2="718.7" stroke="#e2645a" stroke-width="1.1"/>
<rect x="1138.99" y="695.4" width="4" height="8.9" fill="#e8392c" stroke="#e2645a" stroke-width="1"/>
<line x1="1147.12" y1="685.4" x2="1147.12" y2="709.8" stroke="#5fa392" stroke-width="1.1"/>
<rect x="1145.12" y="686.5" width="4" height="17.8" fill="#e8392c" stroke="#5fa392" stroke-width="1"/>
<line x1="1153.26" y1="685" x2="1153.26" y2="708" stroke="#e2645a" stroke-width="1.1"/>
<rect x="1151.26" y="686.5" width="4" height="13.3" fill="#e8392c" stroke="#e2645a" stroke-width="1"/>
<line x1="1159.40" y1="648.8" x2="1159.40" y2="702" stroke="#5fa392" stroke-width="1.1"/>
<rect x="1157.40" y="663.2" width="4" height="36.6" fill="#e8392c" stroke="#5fa392" stroke-width="1"/>
<line x1="1165.53" y1="658.8" x2="1165.53" y2="678.7" stroke="#e2645a" stroke-width="1.1"/>
<rect x="1163.53" y="663.2" width="4" height="5.5" fill="#e8392c" stroke="#e2645a" stroke-width="1"/>
<line x1="1171.67" y1="664.3" x2="1171.67" y2="701" stroke="#e2645a" stroke-width="1.1"/>
<rect x="1169.67" y="667.6" width="4" height="30.0" fill="#e8392c" stroke="#e2645a" stroke-width="1"/>
<line x1="1177.80" y1="656.5" x2="1177.80" y2="701" stroke="#5fa392" stroke-width="1.1"/>
<rect x="1175.80" y="668.7" width="4" height="28.9" fill="#e8392c" stroke="#5fa392" stroke-width="1"/>
<line x1="1183.94" y1="666.5" x2="1183.94" y2="686.5" stroke="#e2645a" stroke-width="1.1"/>
<rect x="1181.94" y="668.7" width="4" height="13.3" fill="#e8392c" stroke="#e2645a" stroke-width="1"/>
<line x1="1190.08" y1="665.4" x2="1190.08" y2="694.3" stroke="#5fa392" stroke-width="1.1"/>
<rect x="1188.08" y="674.3" width="4" height="6.7" fill="#8d8d8d" stroke="#5fa392" stroke-width="1"/>
<line x1="1196.21" y1="671" x2="1196.21" y2="697.6" stroke="#e2645a" stroke-width="1.1"/>
<rect x="1194.21" y="674.3" width="4" height="15.5" fill="#e8392c" stroke="#e2645a" stroke-width="1"/>
<line x1="1202.35" y1="681" x2="1202.35" y2="706.5" stroke="#e2645a" stroke-width="1.1"/>
<rect x="1200.35" y="688.7" width="4" height="10.0" fill="#e8392c" stroke="#e2645a" stroke-width="1"/>
<line x1="1208.48" y1="674.3" x2="1208.48" y2="766.4" stroke="#e2645a" stroke-width="1.1"/>
<rect x="1206.48" y="697.6" width="4" height="17.8" fill="#e8392c" stroke="#e2645a" stroke-width="1"/>
<line x1="1214.62" y1="641" x2="1214.62" y2="725.3" stroke="#5fa392" stroke-width="1.1"/>
<rect x="1212.62" y="655.4" width="4" height="60.0" fill="#e8392c" stroke="#5fa392" stroke-width="1"/>
<line x1="1220.76" y1="623.2" x2="1220.76" y2="660" stroke="#5fa392" stroke-width="1.1"/>
<rect x="1218.76" y="632" width="4" height="23.4" fill="#e8392c" stroke="#5fa392" stroke-width="1"/>
<line x1="1226.89" y1="611" x2="1226.89" y2="645.4" stroke="#e2645a" stroke-width="1.1"/>
<rect x="1224.89" y="629.5" width="4" height="2.5" fill="#e8392c" stroke="#e2645a" stroke-width="1"/>
<line x1="1233.03" y1="604.2" x2="1233.03" y2="659" stroke="#e2645a" stroke-width="1.1"/>
<rect x="1231.03" y="629" width="4" height="3.0" fill="#e8392c" stroke="#e2645a" stroke-width="1"/>
<line x1="1239.16" y1="632" x2="1239.16" y2="702.5" stroke="#e2645a" stroke-width="1.1"/>
<rect x="1237.16" y="632" width="4" height="55.3" fill="#e8392c" stroke="#e2645a" stroke-width="1"/>
<line x1="1245.30" y1="676" x2="1245.30" y2="700" stroke="#e2645a" stroke-width="1.1"/>
<rect x="1243.30" y="676.5" width="4" height="10.0" fill="#e8392c" stroke="#e2645a" stroke-width="1"/>
<line x1="1251.44" y1="592" x2="1251.44" y2="687" stroke="#5fa392" stroke-width="1.1"/>
<rect x="1249.44" y="627.8" width="4" height="46.8" fill="#e8392c" stroke="#5fa392" stroke-width="1"/>
<line x1="1257.57" y1="614.2" x2="1257.57" y2="657.5" stroke="#e2645a" stroke-width="1.1"/>
<rect x="1255.57" y="627.8" width="4" height="17.6" fill="#e8392c" stroke="#e2645a" stroke-width="1"/>
<line x1="1263.71" y1="639.2" x2="1263.71" y2="715.7" stroke="#e2645a" stroke-width="1.1"/>
<rect x="1261.71" y="645.4" width="4" height="34.8" fill="#e8392c" stroke="#e2645a" stroke-width="1"/>
<line x1="1269.84" y1="625" x2="1269.84" y2="693" stroke="#5fa392" stroke-width="1.1"/>
<rect x="1267.84" y="678.5" width="4" height="1.5" fill="#8d8d8d" stroke="#5fa392" stroke-width="1"/>
<line x1="1275.98" y1="583.5" x2="1275.98" y2="677.5" stroke="#5fa392" stroke-width="1.1"/>
<rect x="1273.98" y="621.2" width="4" height="56.3" fill="#e8392c" stroke="#5fa392" stroke-width="1"/>
<line x1="1282.12" y1="592.6" x2="1282.12" y2="621.2" stroke="#5fa392" stroke-width="1.1"/>
<rect x="1280.12" y="597.7" width="4" height="23.5" fill="#8d8d8d" stroke="#5fa392" stroke-width="1"/>
<line x1="1288.25" y1="593.4" x2="1288.25" y2="633.5" stroke="#e2645a" stroke-width="1.1"/>
<rect x="1286.25" y="597.5" width="4" height="7.2" fill="#8d8d8d" stroke="#e2645a" stroke-width="1"/>
<line x1="1294.39" y1="545.6" x2="1294.39" y2="612.6" stroke="#5fa392" stroke-width="1.1"/>
<rect x="1292.39" y="576.8" width="4" height="27.5" fill="#84f45a" stroke="#5fa392" stroke-width="1"/>
<line x1="1300.52" y1="568.8" x2="1300.52" y2="592.3" stroke="#5fa392" stroke-width="1.1"/>
<rect x="1298.52" y="575.8" width="4" height="1.5" fill="#84f45a" stroke="#5fa392" stroke-width="1"/>
<line x1="1306.66" y1="563" x2="1306.66" y2="616.5" stroke="#5fa392" stroke-width="1.1"/>
<rect x="1304.66" y="566.3" width="4" height="10.7" fill="#84f45a" stroke="#5fa392" stroke-width="1"/>
<line x1="1312.80" y1="553.2" x2="1312.80" y2="615.7" stroke="#e2645a" stroke-width="1.1"/>
<rect x="1310.80" y="566.3" width="4" height="37.9" fill="#84f45a" stroke="#e2645a" stroke-width="1"/>
<line x1="1318.93" y1="585.2" x2="1318.93" y2="614" stroke="#e2645a" stroke-width="1.1"/>
<rect x="1316.93" y="605" width="4" height="2.5" fill="#84f45a" stroke="#e2645a" stroke-width="1"/>
<line x1="1325.07" y1="578.7" x2="1325.07" y2="689" stroke="#e2645a" stroke-width="1.1"/>
<rect x="1323.07" y="607.5" width="4" height="78.9" fill="#84f45a" stroke="#e2645a" stroke-width="1"/>
<line x1="1331.20" y1="666.7" x2="1331.20" y2="703.7" stroke="#5fa392" stroke-width="1.1"/>
<rect x="1329.20" y="668.3" width="4" height="18.1" fill="#84f45a" stroke="#5fa392" stroke-width="1"/>
<line x1="1337.34" y1="668.3" x2="1337.34" y2="706.2" stroke="#e2645a" stroke-width="1.1"/>
<rect x="1335.34" y="668.3" width="4" height="36.2" fill="#8d8d8d" stroke="#e2645a" stroke-width="1"/>
<line x1="1343.48" y1="658.5" x2="1343.48" y2="729.2" stroke="#5fa392" stroke-width="1.1"/>
<rect x="1341.48" y="671.6" width="4" height="32.9" fill="#8d8d8d" stroke="#5fa392" stroke-width="1"/>
<line x1="1349.61" y1="642" x2="1349.61" y2="684.8" stroke="#5fa392" stroke-width="1.1"/>
<rect x="1347.61" y="665" width="4" height="7.4" fill="#8d8d8d" stroke="#5fa392" stroke-width="1"/>
<line x1="1355.75" y1="658.5" x2="1355.75" y2="678.2" stroke="#e2645a" stroke-width="1.1"/>
<rect x="1353.75" y="665" width="4" height="5.0" fill="#8d8d8d" stroke="#e2645a" stroke-width="1"/>
<line x1="1361.88" y1="664.2" x2="1361.88" y2="700.4" stroke="#e2645a" stroke-width="1.1"/>
<rect x="1359.88" y="669.2" width="4" height="17.2" fill="#8d8d8d" stroke="#e2645a" stroke-width="1"/>
<line x1="1368.02" y1="651" x2="1368.02" y2="693.8" stroke="#5fa392" stroke-width="1.1"/>
<rect x="1366.02" y="661.7" width="4" height="24.7" fill="#8d8d8d" stroke="#5fa392" stroke-width="1"/>
<line x1="1374.16" y1="648.6" x2="1374.16" y2="680.7" stroke="#e2645a" stroke-width="1.1"/>
<rect x="1372.16" y="661.7" width="4" height="1.7" fill="#8d8d8d" stroke="#e2645a" stroke-width="1"/>
<line x1="1380.29" y1="645.3" x2="1380.29" y2="688.9" stroke="#e2645a" stroke-width="1.1"/>
<rect x="1378.29" y="662.6" width="4" height="11.5" fill="#8d8d8d" stroke="#e2645a" stroke-width="1"/>
<line x1="1386.43" y1="661" x2="1386.43" y2="676.6" stroke="#5fa392" stroke-width="1.1"/>
<rect x="1384.43" y="670.8" width="4" height="1.6" fill="#8d8d8d" stroke="#5fa392" stroke-width="1"/>
<line x1="1392.56" y1="665.9" x2="1392.56" y2="673.3" stroke="#e2645a" stroke-width="1.1"/>
<rect x="1390.56" y="670" width="4" height="1.5" fill="#8d8d8d" stroke="#e2645a" stroke-width="1"/>
<polyline points="0.0,957.7 5.7,961.4 12.6,957.7 23.7,934.9 30.0,940.9 35.4,937.8 41.7,940.9 48.0,936.5 54.3,943.4 60.6,936.5 67.0,938.4 72.6,936.2 79.6,930.8 91.6,946.0 97.9,951.3 104.2,949.1 109.0,950.4 116.2,959.2 126.3,947.5 139.0,937.8 146.9,929.9 159.5,938.7 164.9,934.0 176.9,946.0 182.6,941.9 188.9,946.6 194.3,940.9 200.6,925.1 208.5,934.0 214.8,938.7 224.3,945.0 233.1,956.7 244.8,940.9 250.2,943.4 256.5,949.8 262.8,941.9 274.2,907.1 281.7,896.1 292.2,904.0 300.1,911.9 305.7,903.3 314.3,913.4 323.8,921.3 330.1,917.2 336.4,922.0 342.7,926.1 350.6,937.8 358.5,943.4 366.4,947.2 374.3,951.3 380.6,949.8 385.3,951.3 391.7,956.7 397.3,953.5 403.7,957.7 416.9,948.2 423.2,955.4 428.9,951.3 435.2,959.2 442.2,951.3 453.3,939.6 464.3,922.0 471.3,925.1 483.3,911.9 490.2,904.0 496.5,892.3 505.4,901.7 514.8,910.9 520.5,907.1 525.9,911.9 538.5,892.9 550.2,899.2 557.5,896.1 563.8,889.1 570.1,897.6 578.0,891.3 581.8,889.1 588.1,880.9 600.1,868.3 606.4,885.0 611.2,891.3 618.4,897.6 626.0,892.9 631.7,896.7 638.0,893.5 644.3,896.7 655.4,895.4 672.8,885.0 679.1,887.2 685.4,885.6 699.9,873.3 700.0,873.3 704.7,880.9 711.1,875.5 716.4,883.4 729.1,872.4 736.3,882.8 742.6,889.7 747.4,893.5 753.1,899.9 759.4,895.4 766.3,898.6 772.6,895.4 778.3,898.6 784.6,904.0 791.6,916.6 796.3,922.0 802.7,918.2 809.0,922.0 816.2,929.2 821.6,934.0 826.3,942.8 834.2,938.7 839.9,941.2 851.6,934.6 864.2,945.0 872.1,940.3 880.0,937.1 887.9,932.1 895.8,935.5 906.9,938.7 914.2,946.0 919.5,940.3 932.2,946.6 937.5,944.1 943.2,946.0 949.5,950.4 955.8,946.6 962.2,938.7 970.1,922.9 977.3,913.4 984.3,909.3 987.4,909.3 993.7,912.5 999.4,907.1 1004.8,910.3 1011.1,918.2 1017.4,923.9 1030.1,915.0 1042.7,906.2 1049.0,912.5 1060.1,905.5 1068.0,910.3 1079.0,919.8 1091.0,931.4 1097.3,927.0 1102.7,930.8 1110.6,937.8 1116.3,947.2 1122.6,959.2 1128.0,964.9 1135.2,961.8 1140.6,964.9 1146.9,961.8 1153.3,964.0 1158.0,960.2 1170.6,963.3 1176.9,961.4 1183.3,963.0 1189.6,961.1 1200.6,964.9 1206.9,970.3 1214.8,964.0 1225.9,956.1 1237.0,965.5 1251.2,959.2 1262.2,971.2 1274.9,959.2 1281.2,955.4 1286.9,959.2 1304.9,941.9 1311.2,946.0 1315.9,947.2 1324.8,954.5 1331.1,949.8 1336.4,953.5 1349.1,940.9 1360.1,946.6 1366.5,942.2 1372.8,945.0 1379.1,948.2 1385.4,946.6 1393.3,947.5" fill="none" stroke="#5467e8" stroke-width="2"/>
<rect x="0" y="1028.4" width="2090" height="157.3" fill="#0e0a15"/>
<line x1="0" y1="1028.4" x2="2090" y2="1028.4" stroke="#8c8a96" stroke-width="1.2" stroke-dasharray="5.5 5.5"/>
<line x1="0" y1="1106.4" x2="2090" y2="1106.4" stroke="#8c8a96" stroke-width="1.2" stroke-dasharray="5.5 5.5"/>
<line x1="0" y1="1185.7" x2="2090" y2="1185.7" stroke="#8c8a96" stroke-width="1.2" stroke-dasharray="5.5 5.5"/>
<polyline points="0.0,1115.3 5.7,1123.8 12.6,1112.1 17.4,1079.0 23.7,1044.9 30.0,1070.1 35.4,1067.0 42.6,1076.4 48.0,1072.6 54.3,1089.1 60.0,1084.6 66.3,1087.5 79.6,1082.8 85.3,1123.8 91.6,1124.8 97.9,1139.0 104.2,1125.7 109.9,1127.9 116.2,1166.5 121.6,1165.8 132.7,1101.1 146.9,1077.4 153.2,1086.9 159.5,1103.3 164.9,1094.8 171.2,1116.9 176.9,1118.4 183.2,1094.8 188.9,1112.1 194.3,1105.8 201.5,1056.2 214.8,1063.8 221.1,1074.9 226.8,1080.5 233.1,1106.4 243.8,1079.0 250.2,1081.5 255.8,1095.4 263.7,1060.6 274.8,1016.4 281.7,1015.2 288.1,1037.9 293.7,1041.1 301.6,1052.1 306.4,1041.7 312.7,1071.1 319.0,1085.3 325.3,1085.9 331.6,1082.8 336.4,1083.7 344.3,1107.4 350.6,1135.8 356.9,1140.6 368.0,1142.1 374.3,1146.9 379.0,1142.8 385.3,1145.3 391.7,1161.1 397.3,1155.4 403.7,1160.5 410.6,1148.5 416.9,1142.8 423.2,1149.1 429.6,1145.3 435.2,1175.3 441.6,1134.2 446.9,1124.8 453.3,1116.9 459.6,1086.9 464.9,1083.7 470.6,1101.1 483.3,1057.5 490.2,1053.7 496.5,1040.4 502.8,1079.0 508.5,1081.5 518.0,1094.8 526.8,1103.6 532.2,1079.6 538.5,1070.1 543.3,1079.0 551.2,1103.6 557.5,1095.4 565.4,1079.0 571.7,1080.5 581.2,1077.4 589.1,1057.5 594.4,1052.1 600.1,1039.5 606.4,1056.9 612.8,1079.0 619.1,1086.9 627.0,1082.8 631.7,1099.5 638.0,1094.8 644.3,1100.4 650.0,1096.3 657.0,1077.4 665.8,1074.2 674.4,1060.0 679.1,1075.8 686.0,1074.2 691.7,1037.9 699.9,1021.5 700.0,1022.7 705.7,1028.4 711.1,1025.9 716.4,1039.5 729.1,1006.9 736.3,1029.1 745.8,1045.8 753.1,1053.1 759.4,1039.5 766.3,1065.7 773.3,1051.2 779.0,1071.1 784.6,1101.1 791.0,1145.3 796.3,1153.2 803.6,1146.9 809.0,1148.5 814.3,1170.6 821.6,1176.9 827.0,1184.8 834.2,1153.2 839.9,1159.5 845.3,1132.7 852.2,1128.9 857.9,1139.0 864.2,1152.2 875.3,1129.5 883.2,1123.2 888.9,1122.6 894.3,1125.4 900.6,1126.3 907.8,1135.2 914.2,1173.7 919.5,1155.4 925.8,1169.0 932.2,1180.7 937.5,1155.4 943.8,1169.0 949.5,1175.3 961.5,1154.8 967.8,1097.9 974.8,1097.3 981.1,1082.8 987.4,1077.4 993.1,1089.4 999.4,1070.1 1004.8,1075.2 1012.1,1115.3 1017.4,1127.0 1022.8,1094.8 1034.8,1084.6 1042.7,1067.9 1049.0,1094.1 1053.8,1093.2 1060.1,1081.5 1065.8,1089.1 1078.4,1136.4 1084.7,1142.1 1091.0,1153.2 1097.3,1143.7 1103.7,1144.7 1110.0,1150.0 1116.3,1185.7 1122.6,1194.3 1128.0,1195.8 1134.3,1181.6 1139.7,1183.8 1146.9,1171.2 1152.3,1175.3 1158.0,1148.5 1164.3,1150.0 1170.6,1163.6 1176.3,1142.8 1182.6,1148.5 1189.6,1143.7 1197.5,1151.6 1202.2,1154.8 1207.9,1163.6 1213.3,1116.9 1219.6,1102.7 1225.9,1101.1 1233.2,1102.7 1238.5,1136.4 1243.9,1127.9 1251.2,1097.9 1257.5,1109.0 1262.9,1127.9 1270.1,1124.8 1274.9,1092.2 1281.2,1080.5 1287.5,1083.7 1293.2,1071.1 1299.5,1069.5 1304.9,1063.8 1311.2,1092.2 1316.6,1094.1 1323.8,1141.5 1330.1,1130.1 1336.4,1146.9 1342.8,1125.7 1349.1,1121.6 1355.4,1123.2 1360.8,1132.7 1366.5,1116.9 1372.8,1117.5 1379.1,1123.8 1384.8,1121.6 1391.7,1121.6" fill="none" stroke="#8069d0" stroke-width="1.7"/>
<path d="M0.0 1157.9 C0.9 1158.2 3.1 1160.8 5.7 1159.5 C8.3 1158.2 11.5 1154.0 15.8 1150.0 C20.1 1146.1 26.3 1141.2 31.6 1135.8 C36.8 1130.4 42.1 1123.8 47.4 1117.5 C52.6 1111.2 57.9 1103.4 63.2 1097.9 C68.4 1092.4 74.2 1086.8 79.0 1084.6 C83.7 1082.5 87.9 1084.4 91.6 1085.3 C95.3 1086.2 97.4 1087.3 101.1 1090.0 C104.8 1092.8 109.5 1097.7 113.7 1101.7 C117.9 1105.8 123.2 1111.8 126.3 1114.3 C129.5 1116.9 128.4 1116.6 132.7 1116.9 C136.9 1117.2 146.3 1116.0 151.6 1116.2 C156.9 1116.5 160.0 1118.2 164.2 1118.4 C168.5 1118.7 173.7 1118.2 176.9 1117.5 C180.0 1116.8 180.3 1115.2 183.2 1114.3 C186.1 1113.4 190.6 1114.6 194.3 1112.1 C197.9 1109.7 201.4 1103.0 205.3 1099.5 C209.3 1096.0 214.3 1092.7 217.9 1091.0 C221.6 1089.3 224.3 1089.4 227.4 1089.4 C230.6 1089.4 232.7 1091.4 236.9 1091.0 C241.1 1090.5 247.7 1088.6 252.7 1086.9 C257.7 1085.1 261.9 1084.0 266.9 1080.5 C271.9 1077.1 277.2 1069.5 282.7 1066.3 C288.2 1063.2 294.5 1062.9 300.1 1061.6 C305.6 1060.3 311.1 1059.1 315.9 1058.4 C320.6 1057.7 324.3 1057.5 328.5 1057.5 C332.7 1057.5 337.4 1057.2 341.1 1058.4 C344.8 1059.6 346.4 1060.7 350.6 1064.8 C354.8 1068.8 360.6 1075.8 366.4 1082.8 C372.2 1089.8 380.1 1100.3 385.3 1106.8 C390.6 1113.2 393.8 1117.0 398.0 1121.6 C402.2 1126.2 405.9 1130.4 410.6 1134.2 C415.4 1138.1 421.9 1142.3 426.4 1144.7 C430.9 1147.0 433.2 1148.3 437.5 1148.5 C441.7 1148.6 446.1 1147.7 451.7 1145.3 C457.2 1142.9 463.3 1140.6 470.6 1134.2 C478.0 1127.9 487.5 1115.3 495.9 1107.4 C504.3 1099.5 514.3 1091.6 521.2 1086.9 C528.0 1082.1 531.2 1080.3 537.0 1079.0 C542.7 1077.6 550.6 1078.7 555.9 1079.0 C561.2 1079.2 564.1 1079.5 568.5 1080.5 C573.0 1081.6 578.0 1085.3 582.8 1085.3 C587.5 1085.3 592.0 1082.4 597.0 1080.5 C602.0 1078.7 607.0 1074.9 612.8 1074.2 C618.6 1073.5 625.4 1076.1 631.7 1076.4 C638.0 1076.8 643.8 1076.5 650.7 1076.4 C657.5 1076.3 667.0 1075.1 672.8 1075.8 C678.6 1076.5 680.9 1080.7 685.4 1080.5 C689.9 1080.4 697.5 1075.8 699.9 1074.9 C702.4 1073.9 696.8 1077.2 700.0 1074.9 C703.2 1072.5 713.2 1065.3 719.0 1060.6 C724.7 1056.0 730.0 1050.0 734.7 1046.7 C739.5 1043.5 742.6 1042.5 747.4 1041.1 C752.1 1039.6 759.0 1038.7 763.2 1037.9 C767.4 1037.1 769.6 1035.9 772.6 1036.3 C775.7 1036.7 778.3 1037.8 781.5 1040.4 C784.6 1043.1 787.3 1046.5 791.6 1052.1 C795.9 1057.7 801.6 1064.5 807.4 1074.2 C813.2 1084.0 820.0 1100.8 826.3 1110.5 C832.7 1120.3 840.0 1127.1 845.3 1132.7 C850.6 1138.2 853.7 1140.6 857.9 1143.7 C862.1 1146.9 867.4 1150.3 870.6 1151.6 C873.7 1152.9 873.2 1152.6 876.9 1151.6 C880.6 1150.7 886.9 1148.1 892.7 1145.9 C898.5 1143.7 906.4 1139.5 911.6 1138.3 C916.9 1137.2 920.0 1137.9 924.3 1139.0 C928.5 1140.0 932.7 1143.1 936.9 1144.7 C941.1 1146.2 945.3 1147.2 949.5 1148.5 C953.7 1149.7 957.4 1152.5 962.2 1152.2 C966.9 1152.0 972.7 1149.2 978.0 1146.9 C983.2 1144.6 989.5 1141.5 993.7 1138.3 C998.0 1135.2 999.5 1131.1 1003.2 1127.9 C1006.9 1124.8 1011.1 1123.3 1015.9 1119.4 C1020.6 1115.4 1026.4 1109.0 1031.6 1104.2 C1036.9 1099.5 1042.7 1093.5 1047.4 1091.0 C1052.2 1088.4 1055.3 1088.5 1060.1 1089.1 C1064.8 1089.6 1070.6 1091.2 1075.9 1094.1 C1081.1 1097.1 1086.4 1103.6 1091.7 1106.8 C1096.9 1109.9 1102.2 1109.3 1107.5 1113.1 C1112.7 1116.9 1118.0 1123.7 1123.2 1129.5 C1128.5 1135.3 1134.3 1142.3 1139.0 1147.8 C1143.8 1153.3 1146.4 1159.5 1151.7 1162.7 C1156.9 1165.8 1163.3 1166.1 1170.6 1166.8 C1178.0 1167.5 1189.6 1167.5 1195.9 1166.8 C1202.2 1166.1 1202.7 1167.0 1208.5 1162.7 C1214.3 1158.3 1224.8 1145.1 1230.6 1140.6 C1236.4 1136.0 1238.5 1137.3 1243.3 1135.2 C1248.0 1133.1 1254.9 1129.4 1259.1 1127.9 C1263.3 1126.4 1264.3 1128.6 1268.5 1126.3 C1272.8 1124.1 1279.1 1118.7 1284.3 1114.3 C1289.6 1110.0 1295.4 1103.1 1300.1 1100.4 C1304.9 1097.8 1307.5 1098.9 1312.8 1098.5 C1318.0 1098.2 1326.7 1097.9 1331.7 1098.5 C1336.7 1099.2 1338.8 1102.0 1342.8 1102.7 C1346.7 1103.3 1350.4 1101.3 1355.4 1102.7 C1360.4 1104.0 1366.7 1107.4 1372.8 1110.5 C1378.8 1113.7 1388.6 1119.8 1391.7 1121.6" fill="none" stroke="#e8da52" stroke-width="1.7"/>
<rect x="1369" y="22" width="706" height="28" fill="#0010c8"/>
<text x="1722" y="41.5" font-size="16" fill="#f2f2f5" text-anchor="middle" textLength="141" lengthAdjust="spacingAndGlyphs">EngineeringRobo AI</text>
<rect x="1369" y="52" width="147" height="28" fill="#3f4a78"/>
<text x="1442.5" y="71.6" font-size="14.7" fill="#f2f2f5" text-anchor="middle">DASHBOARD</text>
<rect x="1518" y="52" width="113" height="28" fill="#3f4a78"/>
<text x="1574.5" y="71.6" font-size="14.7" fill="#131722" text-anchor="middle">BTCUSDT</text>
<rect x="1633" y="52" width="210" height="28" fill="#3f4a78"/>
<text x="1738.0" y="71.6" font-size="14.7" fill="#f2f2f5" text-anchor="middle">TOTAL</text>
<rect x="1845" y="52" width="115" height="28" fill="#3f4a78"/>
<text x="1902.5" y="71.6" font-size="14.7" fill="#f2f2f5" text-anchor="middle">DXY</text>
<rect x="1962" y="52" width="113" height="28" fill="#3f4a78"/>
<text x="2018.5" y="71.6" font-size="14.7" fill="#f2f2f5" text-anchor="middle">BTCUSDT</text>
<rect x="1369" y="82" width="147" height="28" fill="#3f4a78"/>
<text x="1442.5" y="101.6" font-size="16.2" fill="#131722" text-anchor="middle">24H Volume</text>
<rect x="1518" y="82" width="113" height="28" fill="#fde74c"/>
<text x="1574.5" y="101.6" font-size="14.7" fill="#131722" text-anchor="middle">HIGH</text>
<rect x="1633" y="82" width="210" height="28" fill="#fde74c"/>
<text x="1738.0" y="101.6" font-size="14.7" fill="#131722" text-anchor="middle">HIGH</text>
<rect x="1845" y="82" width="115" height="28" fill="#fde74c"/>
<text x="1902.5" y="101.6" font-size="14.7" fill="#131722" text-anchor="middle">LOW</text>
<rect x="1962" y="82" width="113" height="28" fill="#fde74c"/>
<text x="2018.5" y="101.6" font-size="14.7" fill="#131722" text-anchor="middle">HIGH</text>
<rect x="1369" y="112" width="147" height="28" fill="#3f4a78"/>
<text x="1442.5" y="131.6" font-size="16.2" fill="#f2f2f5" text-anchor="middle">Volatility %</text>
<rect x="1518" y="112" width="113" height="28" fill="#fde74c"/>
<text x="1574.5" y="131.6" font-size="16" fill="#131722" text-anchor="middle">4.48%</text>
<rect x="1633" y="112" width="210" height="28" fill="#fde74c"/>
<text x="1738.0" y="131.6" font-size="16" fill="#131722" text-anchor="middle">1.58%</text>
<rect x="1845" y="112" width="115" height="28" fill="#fde74c"/>
<text x="1902.5" y="131.6" font-size="16" fill="#131722" text-anchor="middle">0.82%</text>
<rect x="1962" y="112" width="113" height="28" fill="#fde74c"/>
<text x="2018.5" y="131.6" font-size="16" fill="#131722" text-anchor="middle">4.48%</text>
<rect x="1369" y="142" width="147" height="28" fill="#3f4a78"/>
<text x="1442.5" y="161.6" font-size="16.2" fill="#f2f2f5" text-anchor="middle">Correlation to BTC</text>
<rect x="1518" y="142" width="113" height="28" fill="#fde74c"/>
<text x="1574.5" y="161.6" font-size="16" fill="#131722" text-anchor="middle">1.00</text>
<rect x="1633" y="142" width="210" height="28" fill="#fde74c"/>
<text x="1738.0" y="161.6" font-size="16" fill="#131722" text-anchor="middle">1.00</text>
<rect x="1845" y="142" width="115" height="28" fill="#fde74c"/>
<text x="1902.5" y="161.6" font-size="16" fill="#131722" text-anchor="middle">-0.27</text>
<rect x="1962" y="142" width="113" height="28" fill="#fde74c"/>
<text x="2018.5" y="161.6" font-size="16" fill="#131722" text-anchor="middle">1.00</text>
<rect x="1369" y="172" width="147" height="28" fill="#3f4a78"/>
<text x="1442.5" y="191.6" font-size="14.7" fill="#f2f2f5" text-anchor="middle">1W</text>
<rect x="1518" y="172" width="113" height="28" fill="#ef5b53"/>
<text x="1574.5" y="191.6" font-size="14.7" fill="#131722" text-anchor="middle">BEARISH</text>
<rect x="1633" y="172" width="210" height="28" fill="#ef5b53"/>
<text x="1738.0" y="191.6" font-size="14.7" fill="#131722" text-anchor="middle">BEARISH</text>
<rect x="1845" y="172" width="115" height="28" fill="#5cb85c"/>
<text x="1902.5" y="191.6" font-size="14.7" fill="#131722" text-anchor="middle">BULLISH</text>
<rect x="1962" y="172" width="113" height="28" fill="#ef5b53"/>
<text x="2018.5" y="191.6" font-size="14.7" fill="#131722" text-anchor="middle">BEARISH</text>
<rect x="1369" y="202" width="147" height="28" fill="#3f4a78"/>
<text x="1442.5" y="221.6" font-size="14.7" fill="#f2f2f5" text-anchor="middle">1D</text>
<rect x="1518" y="202" width="113" height="28" fill="#ef5b53"/>
<text x="1574.5" y="221.6" font-size="14.7" fill="#131722" text-anchor="middle">BEARISH</text>
<rect x="1633" y="202" width="210" height="28" fill="#7e8089"/>
<text x="1738.0" y="221.6" font-size="14.7" fill="#131722" text-anchor="middle">NEUTRAL</text>
<rect x="1845" y="202" width="115" height="28" fill="#5cb85c"/>
<text x="1902.5" y="221.6" font-size="14.7" fill="#131722" text-anchor="middle">BULLISH</text>
<rect x="1962" y="202" width="113" height="28" fill="#ef5b53"/>
<text x="2018.5" y="221.6" font-size="14.7" fill="#131722" text-anchor="middle">BEARISH</text>
<rect x="1369" y="232" width="147" height="28" fill="#3f4a78"/>
<text x="1442.5" y="251.6" font-size="14.7" fill="#f2f2f5" text-anchor="middle">3H</text>
<rect x="1518" y="232" width="113" height="28" fill="#7e8089"/>
<text x="1574.5" y="251.6" font-size="14.7" fill="#131722" text-anchor="middle">NEUTRAL</text>
<rect x="1633" y="232" width="210" height="28" fill="#ef5b53"/>
<text x="1738.0" y="251.6" font-size="14.7" fill="#131722" text-anchor="middle">BEARISH</text>
<rect x="1845" y="232" width="115" height="28" fill="#5cb85c"/>
<text x="1902.5" y="251.6" font-size="14.7" fill="#131722" text-anchor="middle">BULLISH</text>
<rect x="1962" y="232" width="113" height="28" fill="#7e8089"/>
<text x="2018.5" y="251.6" font-size="14.7" fill="#131722" text-anchor="middle">NEUTRAL</text>
<rect x="1369" y="262" width="147" height="28" fill="#3f4a78"/>
<text x="1442.5" y="281.6" font-size="14.7" fill="#f2f2f5" text-anchor="middle">45M</text>
<rect x="1518" y="262" width="113" height="28" fill="#5cb85c"/>
<text x="1574.5" y="281.6" font-size="14.7" fill="#131722" text-anchor="middle">BULLISH</text>
<rect x="1633" y="262" width="210" height="28" fill="#5cb85c"/>
<text x="1738.0" y="281.6" font-size="14.7" fill="#131722" text-anchor="middle">BULLISH</text>
<rect x="1845" y="262" width="115" height="28" fill="#5cb85c"/>
<text x="1902.5" y="281.6" font-size="14.7" fill="#131722" text-anchor="middle">BULLISH</text>
<rect x="1962" y="262" width="113" height="28" fill="#5cb85c"/>
<text x="2018.5" y="281.6" font-size="14.7" fill="#131722" text-anchor="middle">BULLISH</text>
<rect x="1369" y="292" width="147" height="28" fill="#3f4a78"/>
<text x="1442.5" y="311.6" font-size="14.7" fill="#f2f2f5" text-anchor="middle">15M</text>
<rect x="1518" y="292" width="113" height="28" fill="#ef5b53"/>
<text x="1574.5" y="311.6" font-size="14.7" fill="#131722" text-anchor="middle">BEARISH</text>
<rect x="1633" y="292" width="210" height="28" fill="#ef5b53"/>
<text x="1738.0" y="311.6" font-size="14.7" fill="#131722" text-anchor="middle">BEARISH</text>
<rect x="1845" y="292" width="115" height="28" fill="#7e8089"/>
<text x="1902.5" y="311.6" font-size="14.7" fill="#131722" text-anchor="middle">NEUTRAL</text>
<rect x="1962" y="292" width="113" height="28" fill="#ef5b53"/>
<text x="2018.5" y="311.6" font-size="14.7" fill="#131722" text-anchor="middle">BEARISH</text>
<rect x="1369" y="322" width="147" height="28" fill="#3f4a78"/>
<text x="1442.5" y="341.6" font-size="16.2" fill="#f2f2f5" text-anchor="middle">Multi-timeframe</text>
<rect x="1518" y="322" width="113" height="28" fill="#7e8089"/>
<text x="1574.5" y="341.6" font-size="14.7" fill="#131722" text-anchor="middle">NEUTRAL</text>
<rect x="1633" y="322" width="210" height="28" fill="#7e8089"/>
<text x="1738.0" y="341.6" font-size="14.7" fill="#131722" text-anchor="middle">NEUTRAL</text>
<rect x="1845" y="322" width="115" height="28" fill="#5cb85c"/>
<text x="1902.5" y="341.6" font-size="14.7" fill="#131722" text-anchor="middle">BULLISH</text>
<rect x="1962" y="322" width="113" height="28" fill="#7e8089"/>
<text x="2018.5" y="341.6" font-size="14.7" fill="#131722" text-anchor="middle">NEUTRAL</text>
<rect x="1369" y="352" width="147" height="28" fill="#3f4a78"/>
<text x="1442.5" y="371.6" font-size="14.7" fill="#f2f2f5" text-anchor="middle">RSI</text>
<rect x="1518" y="352" width="113" height="28" fill="#7e8089"/>
<text x="1574.5" y="371.6" font-size="16.2" fill="#131722" text-anchor="middle">Neutral (46.1)</text>
<rect x="1633" y="352" width="210" height="28" fill="#7e8089"/>
<text x="1738.0" y="371.6" font-size="16.2" fill="#131722" text-anchor="middle">Neutral (45.8)</text>
<rect x="1845" y="352" width="115" height="28" fill="#7e8089"/>
<text x="1902.5" y="371.6" font-size="16.2" fill="#131722" text-anchor="middle">Neutral (56.3)</text>
<rect x="1962" y="352" width="113" height="28" fill="#7e8089"/>
<text x="2018.5" y="371.6" font-size="16.2" fill="#131722" text-anchor="middle">Neutral (46.1)</text>
<rect x="1369" y="382" width="147" height="28" fill="#3f4a78"/>
<text x="1442.5" y="401.6" font-size="16.2" fill="#f2f2f5" text-anchor="middle">Smart Money</text>
<rect x="1518" y="382" width="113" height="28" fill="#ef5b53"/>
<text x="1574.5" y="401.6" font-size="14.7" fill="#131722" text-anchor="middle">OUT</text>
<rect x="1633" y="382" width="210" height="28" fill="#ef5b53"/>
<text x="1738.0" y="401.6" font-size="14.7" fill="#131722" text-anchor="middle">OUT</text>
<rect x="1845" y="382" width="115" height="28" fill="#5cb85c"/>
<text x="1902.5" y="401.6" font-size="14.7" fill="#131722" text-anchor="middle">IN</text>
<rect x="1962" y="382" width="113" height="28" fill="#ef5b53"/>
<text x="2018.5" y="401.6" font-size="14.7" fill="#131722" text-anchor="middle">OUT</text>
<rect x="1633" y="412" width="210" height="28" fill="#0010c8"/>
<text x="1738" y="431.6" font-size="15.7" fill="#f2f2f5" text-anchor="middle">AI Social Intelligence Score</text>
<rect x="1633" y="442" width="210" height="28" fill="#dc3223"/>
<text x="1738" y="461.6" font-size="16" fill="#131722" text-anchor="middle">4</text>
<circle cx="1392.6" cy="833.3" r="14" fill="#000" stroke="#a85cd0" stroke-width="2.2"/>
<path d="M1396.8 826 L1386.5 834.6 H1392 L1388.2 841.6 L1398.8 832.4 H1393.3 Z" fill="#b264dc"/>
<circle cx="1402.7" cy="823.1" r="4.6" fill="#000"/><circle cx="1402.7" cy="823.1" r="3.5" fill="#ee5050"/>
<line x1="0" y1="202.5" x2="1516" y2="202.5" stroke="#9a9a9a" stroke-width="1" stroke-dasharray="1.5 3"/>
<line x1="0" y1="217.4" x2="2090" y2="217.4" stroke="#8fae86" stroke-width="1.2"/>
<line x1="0" y1="94.5" x2="2090" y2="578.7" stroke="#4fa89a" stroke-width="3.2"/>
<line x1="0" y1="513" x2="1460" y2="7" stroke="#4fa89a" stroke-width="3" stroke-dasharray="14.3 18.66" stroke-dashoffset="6.12"/>
<line x1="170" y1="853" x2="2090" y2="185" stroke="#4fa89a" stroke-width="3" stroke-dasharray="14.3 18.66" stroke-dashoffset="29.26"/>
<rect x="0" y="853" width="2216" height="2" fill="#333338"/>
<rect x="0" y="982" width="2216" height="2" fill="#333338"/>
<rect x="2090" y="7" width="126" height="846" fill="#000"/>
<text x="2193" y="103.85000000000002" font-size="18.5" fill="#c8c8cc" text-anchor="end" textLength="88" lengthAdjust="spacingAndGlyphs">78,000.00</text>
<text x="2193" y="155.3" font-size="18.5" fill="#c8c8cc" text-anchor="end" textLength="88" lengthAdjust="spacingAndGlyphs">77,000.00</text>
<text x="2193" y="258.2" font-size="18.5" fill="#c8c8cc" text-anchor="end" textLength="88" lengthAdjust="spacingAndGlyphs">75,000.00</text>
<text x="2193" y="309.65" font-size="18.5" fill="#c8c8cc" text-anchor="end" textLength="88" lengthAdjust="spacingAndGlyphs">74,000.00</text>
<text x="2193" y="361.1" font-size="18.5" fill="#c8c8cc" text-anchor="end" textLength="88" lengthAdjust="spacingAndGlyphs">73,000.00</text>
<text x="2193" y="412.54999999999995" font-size="18.5" fill="#c8c8cc" text-anchor="end" textLength="88" lengthAdjust="spacingAndGlyphs">72,000.00</text>
<text x="2193" y="464.0" font-size="18.5" fill="#c8c8cc" text-anchor="end" textLength="88" lengthAdjust="spacingAndGlyphs">71,000.00</text>
<text x="2193" y="515.45" font-size="18.5" fill="#c8c8cc" text-anchor="end" textLength="88" lengthAdjust="spacingAndGlyphs">70,000.00</text>
<text x="2193" y="566.9" font-size="18.5" fill="#c8c8cc" text-anchor="end" textLength="88" lengthAdjust="spacingAndGlyphs">69,000.00</text>
<text x="2193" y="721.25" font-size="18.5" fill="#c8c8cc" text-anchor="end" textLength="88" lengthAdjust="spacingAndGlyphs">66,000.00</text>
<text x="2193" y="772.6999999999999" font-size="18.5" fill="#c8c8cc" text-anchor="end" textLength="88" lengthAdjust="spacingAndGlyphs">65,000.00</text>
<text x="2193" y="824.15" font-size="18.5" fill="#c8c8cc" text-anchor="end" textLength="88" lengthAdjust="spacingAndGlyphs">64,000.00</text>
<path d="M2091 57.2 H2199 Q2202 57.2 2202 60.2 V78.5 Q2202 81.5 2199 81.5 H2091 Z" fill="#66b55e"/>
<text x="2193" y="72.8" font-size="18.5" fill="#e8ffe2" text-anchor="end" textLength="88" lengthAdjust="spacingAndGlyphs">78,608.99</text>
<rect x="2037" y="178" width="54" height="25" fill="#1f3366" rx="3"/>
<rect x="2037" y="178" width="4" height="25" fill="#1f3366"/>
<text x="2044" y="196.5" font-size="18.5" fill="#f0f2ff" textLength="38.6" lengthAdjust="spacingAndGlyphs">High</text>
<path d="M2091 178 H2199 Q2202 178 2202 181 V200 Q2202 203 2199 203 H2091 Z" fill="#1f3366"/>
<text x="2193" y="195.4" font-size="18.5" fill="#f0f2ff" text-anchor="end" textLength="88" lengthAdjust="spacingAndGlyphs">76,000.00</text>
<path d="M2091 205 H2199 Q2202 205 2202 208 V227 Q2202 230 2199 230 H2091 Z" fill="#66b55e"/>
<text x="2193" y="222.4" font-size="18.5" fill="#e8ffe2" text-anchor="end" textLength="88" lengthAdjust="spacingAndGlyphs">75,714.02</text>
<path d="M2091 581.1 H2199 Q2202 581.1 2202 584.1 V604.2 Q2202 607.2 2199 607.2 H2091 Z" fill="#66b55e"/>
<text x="2193" y="599.0500000000001" font-size="18.5" fill="#e8ffe2" text-anchor="end" textLength="88" lengthAdjust="spacingAndGlyphs">67,429.58</text>
<path d="M2091 607.2 H2199 Q2202 607.2 2202 610.2 V630.3 Q2202 633.3 2199 633.3 H2091 Z" fill="#f0605a"/>
<text x="2193" y="625.15" font-size="18.5" fill="#fff2ee" text-anchor="end" textLength="88" lengthAdjust="spacingAndGlyphs">67,183.59</text>
<path d="M2091 633.3 H2199 Q2202 633.3 2202 636.3 V654.7 Q2202 657.7 2199 657.7 H2091 Z" fill="#66b55e"/>
<text x="2193" y="650.4" font-size="18.5" fill="#e8ffe2" text-anchor="end" textLength="88" lengthAdjust="spacingAndGlyphs">66,873.23</text>
<path d="M2091 657.7 H2199 Q2202 657.7 2202 660.7 V702.4 Q2202 705.4 2199 705.4 H2091 Z" fill="#808080"/>
<text x="2193" y="675.5" font-size="18.5" fill="#f4f4f4" text-anchor="end" textLength="88" lengthAdjust="spacingAndGlyphs">66,873.23</text>
<text x="2105" y="696.6" font-size="18.5" fill="#e8e8e8" textLength="75.5" lengthAdjust="spacingAndGlyphs">01:10:11</text>
<path d="M2090 658 H1995 Q1992 658 1992 661 V682 Q1992 685 1995 685 H2090 Z" fill="#808080"/>
<text x="1999.7" y="678" font-size="18.5" fill="#f4f4f4" textLength="81.4" lengthAdjust="spacingAndGlyphs">BTCUSDT</text>
<path d="M2091 819 H2199 Q2202 819 2202 822 V842.6 Q2202 845.6 2199 845.6 H2091 Z" fill="#66b55e"/>
<text x="2193" y="837.1999999999999" font-size="18.5" fill="#e8ffe2" text-anchor="end" textLength="88" lengthAdjust="spacingAndGlyphs">63,725.65</text>
<text x="2105" y="868" font-size="17" fill="#c8c8cc" textLength="56" lengthAdjust="spacingAndGlyphs">3.04 M</text>
<text x="2105" y="926" font-size="17" fill="#c8c8cc" textLength="28" lengthAdjust="spacingAndGlyphs">3 M</text>
<path d="M2091 934 H2166 Q2169 934 2169 937 V957.6 Q2169 960.6 2166 960.6 H2091 Z" fill="#3d5cf5"/>
<text x="2105" y="953.5" font-size="17" fill="#f0f2ff" textLength="56" lengthAdjust="spacingAndGlyphs">2.98 M</text>
<text x="2105" y="983.5" font-size="17" fill="#c8c8cc" textLength="56" lengthAdjust="spacingAndGlyphs">2.96 M</text>
<rect x="2090" y="982" width="126" height="2" fill="#333338"/>
<rect x="2090" y="984" width="126" height="6" fill="#000"/>
<text x="2105" y="995.5" font-size="18" fill="#c8c8cc" textLength="48" lengthAdjust="spacingAndGlyphs">80.00</text>
<text x="2105" y="1074.5" font-size="18" fill="#c8c8cc" textLength="48" lengthAdjust="spacingAndGlyphs">60.00</text>
<path d="M2091 1109 H2159 Q2162 1109 2162 1112 V1134 H2091 Z" fill="#7e57c2"/>
<text x="2105" y="1128.5" font-size="18" fill="#f4f0ff" textLength="48" lengthAdjust="spacingAndGlyphs">46.07</text>
<path d="M2091 1134 H2162 V1158 Q2162 1161 2159 1161 H2091 Z" fill="#fde74c"/>
<text x="2105" y="1154.5" font-size="18" fill="#131313" textLength="48" lengthAdjust="spacingAndGlyphs">45.98</text>
<circle cx="26.2" cy="31.2" r="13.4" fill="#f7931a"/>
<g transform="rotate(14 26.5 31)"><text x="26.5" y="37.5" font-size="17" font-weight="bold" fill="#fff" text-anchor="middle">B</text><rect x="23.3" y="21.5" width="1.6" height="3.5" fill="#fff"/><rect x="26.5" y="21.5" width="1.6" height="3.5" fill="#fff"/><rect x="23.3" y="37" width="1.6" height="3.5" fill="#fff"/><rect x="26.5" y="37" width="1.6" height="3.5" fill="#fff"/></g>
<text x="47" y="40.2" font-size="25" fill="#d6d8de" textLength="345" lengthAdjust="spacingAndGlyphs">Bitcoin / TetherUS · 4h · Binance</text>
<circle cx="418" cy="31.6" r="13.3" fill="#15302a"/><circle cx="418" cy="31.6" r="6.5" fill="#62c4ab"/>
<text x="444.4" y="38.6" font-size="19" fill="#c8cad0" textLength="14" lengthAdjust="spacingAndGlyphs">O</text>
<text x="460.7" y="38.6" font-size="19" fill="#ef5a5a" textLength="94.8" lengthAdjust="spacingAndGlyphs">66,885.73</text>
<text x="566.3" y="38.6" font-size="19" fill="#c8cad0" textLength="14" lengthAdjust="spacingAndGlyphs">H</text>
<text x="582.5" y="38.6" font-size="19" fill="#ef5a5a" textLength="93.9" lengthAdjust="spacingAndGlyphs">66,970.18</text>
<text x="688.1" y="38.6" font-size="19" fill="#c8cad0" textLength="11" lengthAdjust="spacingAndGlyphs">L</text>
<text x="700.8" y="38.6" font-size="19" fill="#ef5a5a" textLength="93.8" lengthAdjust="spacingAndGlyphs">66,827.60</text>
<text x="806.3" y="38.6" font-size="19" fill="#c8cad0" textLength="14" lengthAdjust="spacingAndGlyphs">C</text>
<text x="821.7" y="38.6" font-size="19" fill="#ef5a5a" textLength="93.8" lengthAdjust="spacingAndGlyphs">66,873.23</text>
<text x="926.4" y="38.6" font-size="19" fill="#ef5a5a" textLength="63.1" lengthAdjust="spacingAndGlyphs">−12.51</text>
<text x="999.5" y="38.6" font-size="19" fill="#ef5a5a" textLength="83" lengthAdjust="spacingAndGlyphs">(−0.02%)</text>
<text x="1095" y="38.6" font-size="19" fill="#c8cad0" textLength="25.4" lengthAdjust="spacingAndGlyphs">Vol</text>
<text x="1124.9" y="38.6" font-size="19" fill="#ef5a5a" textLength="63.1" lengthAdjust="spacingAndGlyphs">782.28</text>
<rect x="14.5" y="55.5" width="125" height="50" fill="#111111" rx="6" stroke="#cc4a4a" stroke-width="1.2"/>
<text x="30" y="76.2" font-size="18.5" fill="#ee5358" textLength="93.5" lengthAdjust="spacingAndGlyphs">66,873.22</text>
<text x="56.8" y="97" font-size="16" fill="#dc4e4e" textLength="39" lengthAdjust="spacingAndGlyphs">SELL</text>
<text x="152.7" y="85.7" font-size="14.5" fill="#dcdcdc" textLength="30.6" lengthAdjust="spacingAndGlyphs">0.01</text>
<rect x="198.5" y="55.5" width="126" height="50" fill="#111111" rx="6" stroke="#3c5ce0" stroke-width="1.2"/>
<text x="214" y="76.2" font-size="18.5" fill="#4f6ff5" textLength="93.6" lengthAdjust="spacingAndGlyphs">66,873.23</text>
<text x="244" y="97" font-size="16" fill="#4a6af0" textLength="33.4" lengthAdjust="spacingAndGlyphs">BUY</text>
<rect x="14.5" y="117.5" width="47" height="29" fill="#000" rx="4" stroke="#444446" stroke-width="1.1"/>
<path d="M23.5 130 L29.5 135.5 L35.5 130" fill="none" stroke="#e8e8e8" stroke-width="2"/>
<text x="44.2" y="138.6" font-size="18" fill="#e8e8e8" textLength="9.8" lengthAdjust="spacingAndGlyphs">8</text>
<circle cx="99.4" cy="131.7" r="13.5" fill="#3b1414"/>
<path d="M98 125.5 H101 L100.4 134 H98.6 Z" fill="#e8474a"/><circle cx="99.5" cy="137.5" r="1.6" fill="#e8474a"/>
<rect x="2209.5" y="14" width="20" height="55" fill="#161616" rx="6" stroke="#2e2e30" stroke-width="1.2"/>
<rect x="2096.5" y="13.5" width="112.5" height="37" fill="#0c0c0c" rx="6" stroke="#3a3a3c" stroke-width="1.2"/>
<text x="2101.3" y="37.5" font-size="17.5" fill="#e4e4e8" textLength="47.4" lengthAdjust="spacingAndGlyphs">USDT</text>
<path d="M2198.5 30 L2202.5 34 L2206.5 30" fill="none" stroke="#e4e4e8" stroke-width="2"/>
<rect x="14.5" y="866.5" width="41" height="29.5" fill="#000" rx="4" stroke="#464648" stroke-width="1.1"/>
<path d="M29 878.0 L35 883.5 L41 878.0" fill="none" stroke="#e8e8e8" stroke-width="2"/>
<circle cx="93.4" cy="880.5" r="13" fill="#2a2140"/>
<path d="M86.5 879.0 A7 7 0 0 1 99.5 877.0" fill="none" stroke="#a07ef0" stroke-width="2"/><path d="M101.5 875.5 L100.5 879.0 L97 878.0 Z" fill="#a07ef0" stroke="#a07ef0" stroke-width="1"/><path d="M100.3 882.0 A7 7 0 0 1 87.3 884.0" fill="none" stroke="#a07ef0" stroke-width="2"/><path d="M85.3 885.5 L86.3 882.0 L89.8 883.0 Z" fill="#a07ef0" stroke="#a07ef0" stroke-width="1"/>
<rect x="14.5" y="995.6" width="41" height="29.5" fill="#000" rx="4" stroke="#464648" stroke-width="1.1"/>
<path d="M29 1007.1 L35 1012.6 L41 1007.1" fill="none" stroke="#e8e8e8" stroke-width="2"/>
<circle cx="93.4" cy="1009.6" r="13" fill="#2a2140"/>
<path d="M86.5 1008.1 A7 7 0 0 1 99.5 1006.1" fill="none" stroke="#a07ef0" stroke-width="2"/><path d="M101.5 1004.6 L100.5 1008.1 L97 1007.1 Z" fill="#a07ef0" stroke="#a07ef0" stroke-width="1"/><path d="M100.3 1011.1 A7 7 0 0 1 87.3 1013.1" fill="none" stroke="#a07ef0" stroke-width="2"/><path d="M85.3 1014.6 L86.3 1011.1 L89.8 1012.1 Z" fill="#a07ef0" stroke="#a07ef0" stroke-width="1"/>
</svg></body></html>
